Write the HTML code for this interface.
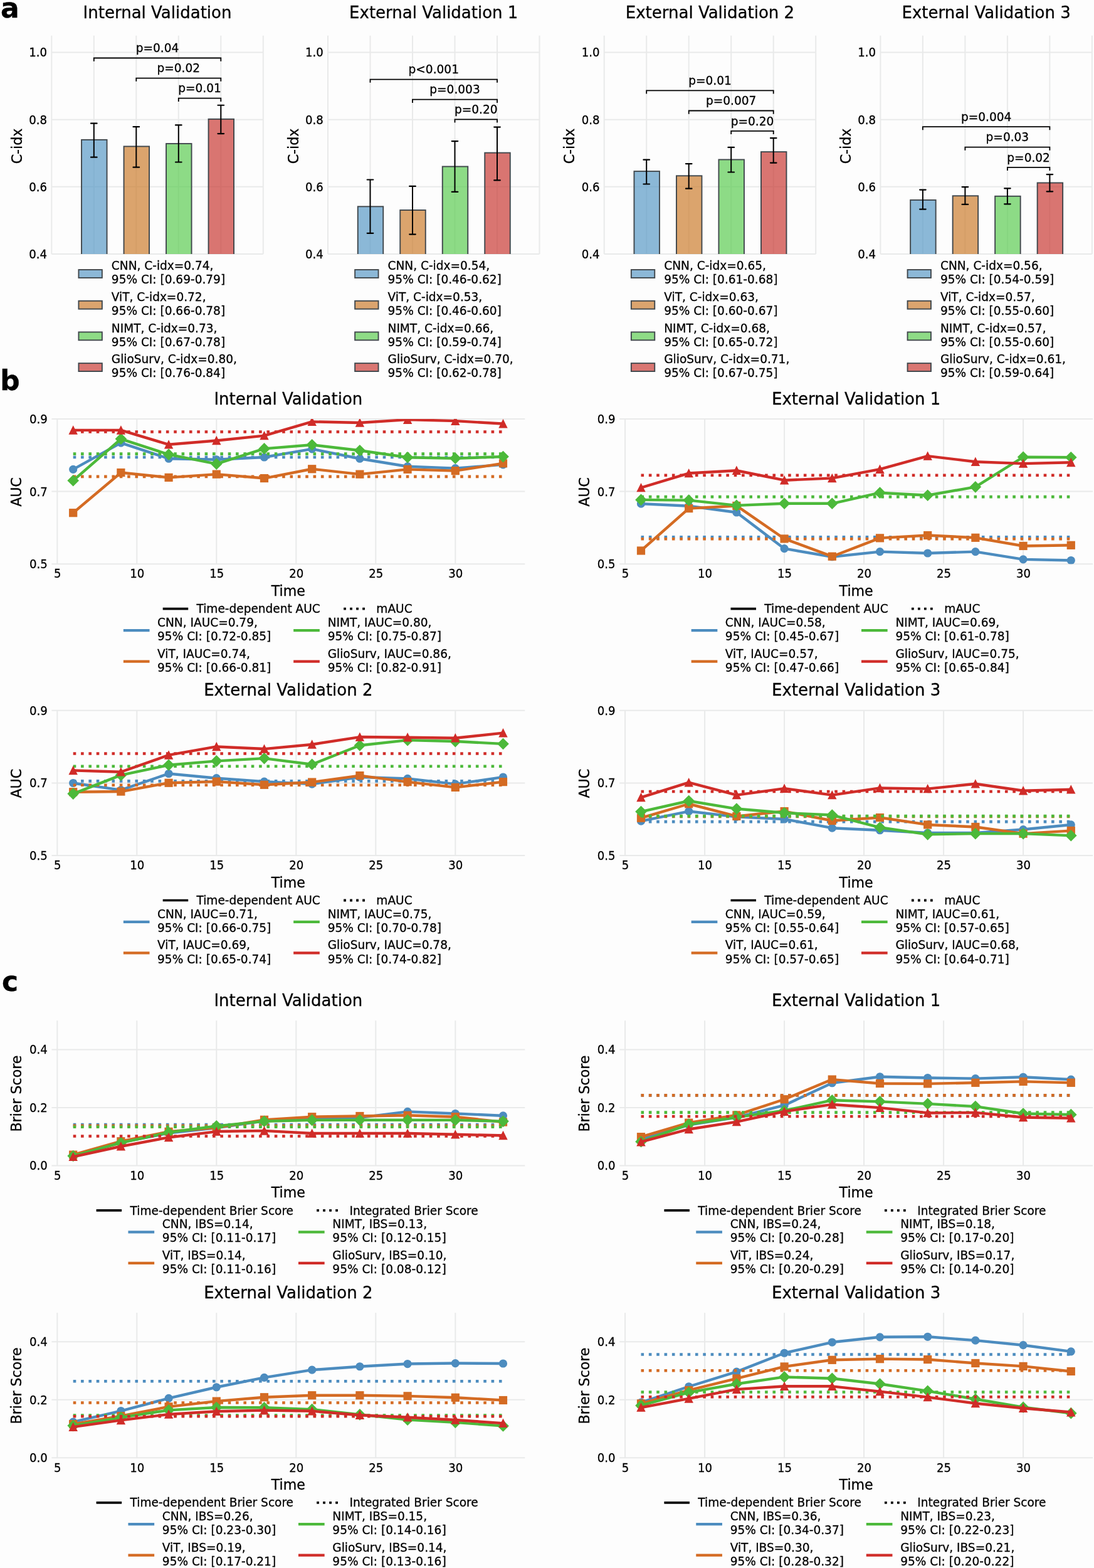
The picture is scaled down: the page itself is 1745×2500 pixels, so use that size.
<!DOCTYPE html>
<html><head><meta charset="utf-8"><title>Figure</title>
<style>
html,body{margin:0;padding:0;background:#fdfdfd;}
body{width:1745px;height:2500px;overflow:hidden;}
svg{display:block;font-family:"DejaVu Sans","Liberation Sans",sans-serif;}
text{stroke:#000;stroke-width:0.3px;}
</style></head><body>
<svg width="1745" height="2500" viewBox="0 0 1745 2500" font-family="'DejaVu Sans', 'Liberation Sans', sans-serif">
<rect width="1745" height="2500" fill="#fdfdfd"/>
<clipPath id="ca0"><rect x="82.3" y="56.8" width="337.5" height="348.2"/></clipPath>
<line x1="82.3" y1="405" x2="419.8" y2="405" stroke="#e9eaea" stroke-width="2"/>
<line x1="82.3" y1="297.86" x2="419.8" y2="297.86" stroke="#e9eaea" stroke-width="2"/>
<line x1="82.3" y1="190.72" x2="419.8" y2="190.72" stroke="#e9eaea" stroke-width="2"/>
<line x1="82.3" y1="83.58" x2="419.8" y2="83.58" stroke="#e9eaea" stroke-width="2"/>
<line x1="82.3" y1="56.8" x2="82.3" y2="405" stroke="#e9eaea" stroke-width="2"/>
<line x1="149.8" y1="56.8" x2="149.8" y2="405" stroke="#e9eaea" stroke-width="2"/>
<line x1="217.3" y1="56.8" x2="217.3" y2="405" stroke="#e9eaea" stroke-width="2"/>
<line x1="284.8" y1="56.8" x2="284.8" y2="405" stroke="#e9eaea" stroke-width="2"/>
<line x1="352.3" y1="56.8" x2="352.3" y2="405" stroke="#e9eaea" stroke-width="2"/>
<line x1="419.8" y1="56.8" x2="419.8" y2="405" stroke="#e9eaea" stroke-width="2"/>
<g clip-path="url(#ca0)">
<rect x="130.05" y="222.86" width="40.5" height="202.14" fill="#4f93c3" fill-opacity="0.65" stroke="#40474c" stroke-width="1.9"/>
<rect x="197.55" y="233.42" width="40.5" height="191.58" fill="#c97421" fill-opacity="0.65" stroke="#40474c" stroke-width="1.9"/>
<rect x="265.05" y="229.03" width="40.5" height="195.97" fill="#52c946" fill-opacity="0.65" stroke="#40474c" stroke-width="1.9"/>
<rect x="332.55" y="189.87" width="40.5" height="235.13" fill="#c62d27" fill-opacity="0.65" stroke="#40474c" stroke-width="1.9"/>
</g>
<line x1="149.8" y1="196.72" x2="149.8" y2="250.72" stroke="#000" stroke-width="2"/>
<line x1="145" y1="196.72" x2="154.6" y2="196.72" stroke="#000" stroke-width="2.2" stroke-linecap="round"/>
<line x1="145" y1="250.72" x2="154.6" y2="250.72" stroke="#000" stroke-width="2.2" stroke-linecap="round"/>
<line x1="217.3" y1="202.19" x2="217.3" y2="266.68" stroke="#000" stroke-width="2"/>
<line x1="212.5" y1="202.19" x2="222.1" y2="202.19" stroke="#000" stroke-width="2.2" stroke-linecap="round"/>
<line x1="212.5" y1="266.68" x2="222.1" y2="266.68" stroke="#000" stroke-width="2.2" stroke-linecap="round"/>
<line x1="284.8" y1="199.4" x2="284.8" y2="258.49" stroke="#000" stroke-width="2"/>
<line x1="280" y1="199.4" x2="289.6" y2="199.4" stroke="#000" stroke-width="2.2" stroke-linecap="round"/>
<line x1="280" y1="258.49" x2="289.6" y2="258.49" stroke="#000" stroke-width="2.2" stroke-linecap="round"/>
<line x1="352.3" y1="167.74" x2="352.3" y2="213.06" stroke="#000" stroke-width="2"/>
<line x1="347.5" y1="167.74" x2="357.1" y2="167.74" stroke="#000" stroke-width="2.2" stroke-linecap="round"/>
<line x1="347.5" y1="213.06" x2="357.1" y2="213.06" stroke="#000" stroke-width="2.2" stroke-linecap="round"/>
<path d="M149.8 97.7V92.5H352.3V97.7" fill="none" stroke="#000" stroke-width="1.8"/>
<text x="251.05" y="83.2" font-size="18.55" text-anchor="middle">p=0.04</text>
<path d="M217.3 129.8V124.6H352.3V129.8" fill="none" stroke="#000" stroke-width="1.8"/>
<text x="284.8" y="115.3" font-size="18.55" text-anchor="middle">p=0.02</text>
<path d="M284.8 161.9V156.7H352.3V161.9" fill="none" stroke="#000" stroke-width="1.8"/>
<text x="318.55" y="147.4" font-size="18.55" text-anchor="middle">p=0.01</text>
<text transform="translate(75 411.8) scale(1 1.07)" font-size="18.1" text-anchor="end">0.4</text>
<text transform="translate(75 304.66) scale(1 1.07)" font-size="18.1" text-anchor="end">0.6</text>
<text transform="translate(75 197.52) scale(1 1.07)" font-size="18.1" text-anchor="end">0.8</text>
<text transform="translate(75 90.38) scale(1 1.07)" font-size="18.1" text-anchor="end">1.0</text>
<text x="34.8" y="233" font-size="22.1" text-anchor="middle" transform="rotate(-90 34.8 233)">C-idx</text>
<text x="251.05" y="28.6" font-size="26" text-anchor="middle">Internal Validation</text>
<rect x="125.45" y="430.05" width="37.4" height="12.9" fill="#8cb8d7" stroke="#40474c" stroke-width="1.9"/>
<text x="177.85" y="430.3" font-size="18.55">CNN, C-idx=0.74,</text>
<text x="177.85" y="452.3" font-size="18.55">95% CI: [0.69-0.79]</text>
<rect x="125.45" y="479.75" width="37.4" height="12.9" fill="#dba46e" stroke="#40474c" stroke-width="1.9"/>
<text x="177.85" y="480" font-size="18.55">ViT, C-idx=0.72,</text>
<text x="177.85" y="502" font-size="18.55">95% CI: [0.66-0.78]</text>
<rect x="125.45" y="529.45" width="37.4" height="12.9" fill="#8edb86" stroke="#40474c" stroke-width="1.9"/>
<text x="177.85" y="529.7" font-size="18.55">NIMT, C-idx=0.73,</text>
<text x="177.85" y="551.7" font-size="18.55">95% CI: [0.67-0.78]</text>
<rect x="125.45" y="579.15" width="37.4" height="12.9" fill="#d97672" stroke="#40474c" stroke-width="1.9"/>
<text x="177.85" y="579.4" font-size="18.55">GlioSurv, C-idx=0.80,</text>
<text x="177.85" y="601.4" font-size="18.55">95% CI: [0.76-0.84]</text>
<clipPath id="ca1"><rect x="523" y="56.8" width="337.5" height="348.2"/></clipPath>
<line x1="523" y1="405" x2="860.5" y2="405" stroke="#e9eaea" stroke-width="2"/>
<line x1="523" y1="297.86" x2="860.5" y2="297.86" stroke="#e9eaea" stroke-width="2"/>
<line x1="523" y1="190.72" x2="860.5" y2="190.72" stroke="#e9eaea" stroke-width="2"/>
<line x1="523" y1="83.58" x2="860.5" y2="83.58" stroke="#e9eaea" stroke-width="2"/>
<line x1="523" y1="56.8" x2="523" y2="405" stroke="#e9eaea" stroke-width="2"/>
<line x1="590.5" y1="56.8" x2="590.5" y2="405" stroke="#e9eaea" stroke-width="2"/>
<line x1="658" y1="56.8" x2="658" y2="405" stroke="#e9eaea" stroke-width="2"/>
<line x1="725.5" y1="56.8" x2="725.5" y2="405" stroke="#e9eaea" stroke-width="2"/>
<line x1="793" y1="56.8" x2="793" y2="405" stroke="#e9eaea" stroke-width="2"/>
<line x1="860.5" y1="56.8" x2="860.5" y2="405" stroke="#e9eaea" stroke-width="2"/>
<g clip-path="url(#ca1)">
<rect x="570.75" y="329.31" width="40.5" height="95.69" fill="#4f93c3" fill-opacity="0.65" stroke="#40474c" stroke-width="1.9"/>
<rect x="638.25" y="334.99" width="40.5" height="90.01" fill="#c97421" fill-opacity="0.65" stroke="#40474c" stroke-width="1.9"/>
<rect x="705.75" y="265.51" width="40.5" height="159.49" fill="#52c946" fill-opacity="0.65" stroke="#40474c" stroke-width="1.9"/>
<rect x="773.25" y="243.6" width="40.5" height="181.4" fill="#c62d27" fill-opacity="0.65" stroke="#40474c" stroke-width="1.9"/>
</g>
<line x1="590.5" y1="286.5" x2="590.5" y2="371.79" stroke="#000" stroke-width="2"/>
<line x1="585.7" y1="286.5" x2="595.3" y2="286.5" stroke="#000" stroke-width="2.2" stroke-linecap="round"/>
<line x1="585.7" y1="371.79" x2="595.3" y2="371.79" stroke="#000" stroke-width="2.2" stroke-linecap="round"/>
<line x1="658" y1="296.9" x2="658" y2="373.61" stroke="#000" stroke-width="2"/>
<line x1="653.2" y1="296.9" x2="662.8" y2="296.9" stroke="#000" stroke-width="2.2" stroke-linecap="round"/>
<line x1="653.2" y1="373.61" x2="662.8" y2="373.61" stroke="#000" stroke-width="2.2" stroke-linecap="round"/>
<line x1="725.5" y1="225.11" x2="725.5" y2="305.9" stroke="#000" stroke-width="2"/>
<line x1="720.7" y1="225.11" x2="730.3" y2="225.11" stroke="#000" stroke-width="2.2" stroke-linecap="round"/>
<line x1="720.7" y1="305.9" x2="730.3" y2="305.9" stroke="#000" stroke-width="2.2" stroke-linecap="round"/>
<line x1="793" y1="202.62" x2="793" y2="287.42" stroke="#000" stroke-width="2"/>
<line x1="788.2" y1="202.62" x2="797.8" y2="202.62" stroke="#000" stroke-width="2.2" stroke-linecap="round"/>
<line x1="788.2" y1="287.42" x2="797.8" y2="287.42" stroke="#000" stroke-width="2.2" stroke-linecap="round"/>
<path d="M590.5 131.8V126.6H793V131.8" fill="none" stroke="#000" stroke-width="1.8"/>
<text x="691.75" y="117.3" font-size="18.55" text-anchor="middle">p<0.001</text>
<path d="M658 163.9V158.7H793V163.9" fill="none" stroke="#000" stroke-width="1.8"/>
<text x="725.5" y="149.4" font-size="18.55" text-anchor="middle">p=0.003</text>
<path d="M725.5 195.6V190.4H793V195.6" fill="none" stroke="#000" stroke-width="1.8"/>
<text x="759.25" y="181.1" font-size="18.55" text-anchor="middle">p=0.20</text>
<text transform="translate(515.7 411.8) scale(1 1.07)" font-size="18.1" text-anchor="end">0.4</text>
<text transform="translate(515.7 304.66) scale(1 1.07)" font-size="18.1" text-anchor="end">0.6</text>
<text transform="translate(515.7 197.52) scale(1 1.07)" font-size="18.1" text-anchor="end">0.8</text>
<text transform="translate(515.7 90.38) scale(1 1.07)" font-size="18.1" text-anchor="end">1.0</text>
<text x="475.5" y="233" font-size="22.1" text-anchor="middle" transform="rotate(-90 475.5 233)">C-idx</text>
<text x="691.75" y="28.6" font-size="26" text-anchor="middle">External Validation 1</text>
<rect x="566.15" y="430.05" width="37.4" height="12.9" fill="#8cb8d7" stroke="#40474c" stroke-width="1.9"/>
<text x="618.55" y="430.3" font-size="18.55">CNN, C-idx=0.54,</text>
<text x="618.55" y="452.3" font-size="18.55">95% CI: [0.46-0.62]</text>
<rect x="566.15" y="479.75" width="37.4" height="12.9" fill="#dba46e" stroke="#40474c" stroke-width="1.9"/>
<text x="618.55" y="480" font-size="18.55">ViT, C-idx=0.53,</text>
<text x="618.55" y="502" font-size="18.55">95% CI: [0.46-0.60]</text>
<rect x="566.15" y="529.45" width="37.4" height="12.9" fill="#8edb86" stroke="#40474c" stroke-width="1.9"/>
<text x="618.55" y="529.7" font-size="18.55">NIMT, C-idx=0.66,</text>
<text x="618.55" y="551.7" font-size="18.55">95% CI: [0.59-0.74]</text>
<rect x="566.15" y="579.15" width="37.4" height="12.9" fill="#d97672" stroke="#40474c" stroke-width="1.9"/>
<text x="618.55" y="579.4" font-size="18.55">GlioSurv, C-idx=0.70,</text>
<text x="618.55" y="601.4" font-size="18.55">95% CI: [0.62-0.78]</text>
<clipPath id="ca2"><rect x="963.7" y="56.8" width="337.5" height="348.2"/></clipPath>
<line x1="963.7" y1="405" x2="1301.2" y2="405" stroke="#e9eaea" stroke-width="2"/>
<line x1="963.7" y1="297.86" x2="1301.2" y2="297.86" stroke="#e9eaea" stroke-width="2"/>
<line x1="963.7" y1="190.72" x2="1301.2" y2="190.72" stroke="#e9eaea" stroke-width="2"/>
<line x1="963.7" y1="83.58" x2="1301.2" y2="83.58" stroke="#e9eaea" stroke-width="2"/>
<line x1="963.7" y1="56.8" x2="963.7" y2="405" stroke="#e9eaea" stroke-width="2"/>
<line x1="1031.2" y1="56.8" x2="1031.2" y2="405" stroke="#e9eaea" stroke-width="2"/>
<line x1="1098.7" y1="56.8" x2="1098.7" y2="405" stroke="#e9eaea" stroke-width="2"/>
<line x1="1166.2" y1="56.8" x2="1166.2" y2="405" stroke="#e9eaea" stroke-width="2"/>
<line x1="1233.7" y1="56.8" x2="1233.7" y2="405" stroke="#e9eaea" stroke-width="2"/>
<line x1="1301.2" y1="56.8" x2="1301.2" y2="405" stroke="#e9eaea" stroke-width="2"/>
<g clip-path="url(#ca2)">
<rect x="1011.45" y="273.11" width="40.5" height="151.89" fill="#4f93c3" fill-opacity="0.65" stroke="#40474c" stroke-width="1.9"/>
<rect x="1078.95" y="280.29" width="40.5" height="144.71" fill="#c97421" fill-opacity="0.65" stroke="#40474c" stroke-width="1.9"/>
<rect x="1146.45" y="254.47" width="40.5" height="170.53" fill="#52c946" fill-opacity="0.65" stroke="#40474c" stroke-width="1.9"/>
<rect x="1213.95" y="242.1" width="40.5" height="182.9" fill="#c62d27" fill-opacity="0.65" stroke="#40474c" stroke-width="1.9"/>
</g>
<line x1="1031.2" y1="254.68" x2="1031.2" y2="293.52" stroke="#000" stroke-width="2"/>
<line x1="1026.4" y1="254.68" x2="1036" y2="254.68" stroke="#000" stroke-width="2.2" stroke-linecap="round"/>
<line x1="1026.4" y1="293.52" x2="1036" y2="293.52" stroke="#000" stroke-width="2.2" stroke-linecap="round"/>
<line x1="1098.7" y1="261.11" x2="1098.7" y2="300.7" stroke="#000" stroke-width="2"/>
<line x1="1093.9" y1="261.11" x2="1103.5" y2="261.11" stroke="#000" stroke-width="2.2" stroke-linecap="round"/>
<line x1="1093.9" y1="300.7" x2="1103.5" y2="300.7" stroke="#000" stroke-width="2.2" stroke-linecap="round"/>
<line x1="1166.2" y1="234.92" x2="1166.2" y2="274.51" stroke="#000" stroke-width="2"/>
<line x1="1161.4" y1="234.92" x2="1171" y2="234.92" stroke="#000" stroke-width="2.2" stroke-linecap="round"/>
<line x1="1161.4" y1="274.51" x2="1171" y2="274.51" stroke="#000" stroke-width="2.2" stroke-linecap="round"/>
<line x1="1233.7" y1="220.03" x2="1233.7" y2="259.61" stroke="#000" stroke-width="2"/>
<line x1="1228.9" y1="220.03" x2="1238.5" y2="220.03" stroke="#000" stroke-width="2.2" stroke-linecap="round"/>
<line x1="1228.9" y1="259.61" x2="1238.5" y2="259.61" stroke="#000" stroke-width="2.2" stroke-linecap="round"/>
<path d="M1031.2 149.5V144.3H1233.7V149.5" fill="none" stroke="#000" stroke-width="1.8"/>
<text x="1132.45" y="135" font-size="18.55" text-anchor="middle">p=0.01</text>
<path d="M1098.7 181.7V176.5H1233.7V181.7" fill="none" stroke="#000" stroke-width="1.8"/>
<text x="1166.2" y="167.2" font-size="18.55" text-anchor="middle">p=0.007</text>
<path d="M1166.2 214.1V208.9H1233.7V214.1" fill="none" stroke="#000" stroke-width="1.8"/>
<text x="1199.95" y="199.6" font-size="18.55" text-anchor="middle">p=0.20</text>
<text transform="translate(956.4 411.8) scale(1 1.07)" font-size="18.1" text-anchor="end">0.4</text>
<text transform="translate(956.4 304.66) scale(1 1.07)" font-size="18.1" text-anchor="end">0.6</text>
<text transform="translate(956.4 197.52) scale(1 1.07)" font-size="18.1" text-anchor="end">0.8</text>
<text transform="translate(956.4 90.38) scale(1 1.07)" font-size="18.1" text-anchor="end">1.0</text>
<text x="916.2" y="233" font-size="22.1" text-anchor="middle" transform="rotate(-90 916.2 233)">C-idx</text>
<text x="1132.45" y="28.6" font-size="26" text-anchor="middle">External Validation 2</text>
<rect x="1006.85" y="430.05" width="37.4" height="12.9" fill="#8cb8d7" stroke="#40474c" stroke-width="1.9"/>
<text x="1059.25" y="430.3" font-size="18.55">CNN, C-idx=0.65,</text>
<text x="1059.25" y="452.3" font-size="18.55">95% CI: [0.61-0.68]</text>
<rect x="1006.85" y="479.75" width="37.4" height="12.9" fill="#dba46e" stroke="#40474c" stroke-width="1.9"/>
<text x="1059.25" y="480" font-size="18.55">ViT, C-idx=0.63,</text>
<text x="1059.25" y="502" font-size="18.55">95% CI: [0.60-0.67]</text>
<rect x="1006.85" y="529.45" width="37.4" height="12.9" fill="#8edb86" stroke="#40474c" stroke-width="1.9"/>
<text x="1059.25" y="529.7" font-size="18.55">NIMT, C-idx=0.68,</text>
<text x="1059.25" y="551.7" font-size="18.55">95% CI: [0.65-0.72]</text>
<rect x="1006.85" y="579.15" width="37.4" height="12.9" fill="#d97672" stroke="#40474c" stroke-width="1.9"/>
<text x="1059.25" y="579.4" font-size="18.55">GlioSurv, C-idx=0.71,</text>
<text x="1059.25" y="601.4" font-size="18.55">95% CI: [0.67-0.75]</text>
<clipPath id="ca3"><rect x="1404.4" y="56.8" width="337.5" height="348.2"/></clipPath>
<line x1="1404.4" y1="405" x2="1741.9" y2="405" stroke="#e9eaea" stroke-width="2"/>
<line x1="1404.4" y1="297.86" x2="1741.9" y2="297.86" stroke="#e9eaea" stroke-width="2"/>
<line x1="1404.4" y1="190.72" x2="1741.9" y2="190.72" stroke="#e9eaea" stroke-width="2"/>
<line x1="1404.4" y1="83.58" x2="1741.9" y2="83.58" stroke="#e9eaea" stroke-width="2"/>
<line x1="1404.4" y1="56.8" x2="1404.4" y2="405" stroke="#e9eaea" stroke-width="2"/>
<line x1="1471.9" y1="56.8" x2="1471.9" y2="405" stroke="#e9eaea" stroke-width="2"/>
<line x1="1539.4" y1="56.8" x2="1539.4" y2="405" stroke="#e9eaea" stroke-width="2"/>
<line x1="1606.9" y1="56.8" x2="1606.9" y2="405" stroke="#e9eaea" stroke-width="2"/>
<line x1="1674.4" y1="56.8" x2="1674.4" y2="405" stroke="#e9eaea" stroke-width="2"/>
<line x1="1741.9" y1="56.8" x2="1741.9" y2="405" stroke="#e9eaea" stroke-width="2"/>
<g clip-path="url(#ca3)">
<rect x="1452.15" y="318.91" width="40.5" height="106.09" fill="#4f93c3" fill-opacity="0.65" stroke="#40474c" stroke-width="1.9"/>
<rect x="1519.65" y="312.27" width="40.5" height="112.73" fill="#c97421" fill-opacity="0.65" stroke="#40474c" stroke-width="1.9"/>
<rect x="1587.15" y="312.81" width="40.5" height="112.19" fill="#52c946" fill-opacity="0.65" stroke="#40474c" stroke-width="1.9"/>
<rect x="1654.65" y="291.49" width="40.5" height="133.51" fill="#c62d27" fill-opacity="0.65" stroke="#40474c" stroke-width="1.9"/>
</g>
<line x1="1471.9" y1="302.58" x2="1471.9" y2="333.59" stroke="#000" stroke-width="2"/>
<line x1="1467.1" y1="302.58" x2="1476.7" y2="302.58" stroke="#000" stroke-width="2.2" stroke-linecap="round"/>
<line x1="1467.1" y1="333.59" x2="1476.7" y2="333.59" stroke="#000" stroke-width="2.2" stroke-linecap="round"/>
<line x1="1539.4" y1="298.08" x2="1539.4" y2="325.88" stroke="#000" stroke-width="2"/>
<line x1="1534.6" y1="298.08" x2="1544.2" y2="298.08" stroke="#000" stroke-width="2.2" stroke-linecap="round"/>
<line x1="1534.6" y1="325.88" x2="1544.2" y2="325.88" stroke="#000" stroke-width="2.2" stroke-linecap="round"/>
<line x1="1606.9" y1="300.33" x2="1606.9" y2="325.29" stroke="#000" stroke-width="2"/>
<line x1="1602.1" y1="300.33" x2="1611.7" y2="300.33" stroke="#000" stroke-width="2.2" stroke-linecap="round"/>
<line x1="1602.1" y1="325.29" x2="1611.7" y2="325.29" stroke="#000" stroke-width="2.2" stroke-linecap="round"/>
<line x1="1674.4" y1="278.09" x2="1674.4" y2="305.31" stroke="#000" stroke-width="2"/>
<line x1="1669.6" y1="278.09" x2="1679.2" y2="278.09" stroke="#000" stroke-width="2.2" stroke-linecap="round"/>
<line x1="1669.6" y1="305.31" x2="1679.2" y2="305.31" stroke="#000" stroke-width="2.2" stroke-linecap="round"/>
<path d="M1471.9 207.3V202.1H1674.4V207.3" fill="none" stroke="#000" stroke-width="1.8"/>
<text x="1573.15" y="192.8" font-size="18.55" text-anchor="middle">p=0.004</text>
<path d="M1539.4 239.8V234.6H1674.4V239.8" fill="none" stroke="#000" stroke-width="1.8"/>
<text x="1606.9" y="225.3" font-size="18.55" text-anchor="middle">p=0.03</text>
<path d="M1606.9 272V266.8H1674.4V272" fill="none" stroke="#000" stroke-width="1.8"/>
<text x="1640.65" y="257.5" font-size="18.55" text-anchor="middle">p=0.02</text>
<text transform="translate(1397.1 411.8) scale(1 1.07)" font-size="18.1" text-anchor="end">0.4</text>
<text transform="translate(1397.1 304.66) scale(1 1.07)" font-size="18.1" text-anchor="end">0.6</text>
<text transform="translate(1397.1 197.52) scale(1 1.07)" font-size="18.1" text-anchor="end">0.8</text>
<text transform="translate(1397.1 90.38) scale(1 1.07)" font-size="18.1" text-anchor="end">1.0</text>
<text x="1356.9" y="233" font-size="22.1" text-anchor="middle" transform="rotate(-90 1356.9 233)">C-idx</text>
<text x="1573.15" y="28.6" font-size="26" text-anchor="middle">External Validation 3</text>
<rect x="1447.55" y="430.05" width="37.4" height="12.9" fill="#8cb8d7" stroke="#40474c" stroke-width="1.9"/>
<text x="1499.95" y="430.3" font-size="18.55">CNN, C-idx=0.56,</text>
<text x="1499.95" y="452.3" font-size="18.55">95% CI: [0.54-0.59]</text>
<rect x="1447.55" y="479.75" width="37.4" height="12.9" fill="#dba46e" stroke="#40474c" stroke-width="1.9"/>
<text x="1499.95" y="480" font-size="18.55">ViT, C-idx=0.57,</text>
<text x="1499.95" y="502" font-size="18.55">95% CI: [0.55-0.60]</text>
<rect x="1447.55" y="529.45" width="37.4" height="12.9" fill="#8edb86" stroke="#40474c" stroke-width="1.9"/>
<text x="1499.95" y="529.7" font-size="18.55">NIMT, C-idx=0.57,</text>
<text x="1499.95" y="551.7" font-size="18.55">95% CI: [0.55-0.60]</text>
<rect x="1447.55" y="579.15" width="37.4" height="12.9" fill="#d97672" stroke="#40474c" stroke-width="1.9"/>
<text x="1499.95" y="579.4" font-size="18.55">GlioSurv, C-idx=0.61,</text>
<text x="1499.95" y="601.4" font-size="18.55">95% CI: [0.59-0.64]</text>
<line x1="82.4" y1="899.2" x2="837.3" y2="899.2" stroke="#e9eaea" stroke-width="2"/>
<line x1="82.4" y1="783.6" x2="837.3" y2="783.6" stroke="#e9eaea" stroke-width="2"/>
<line x1="82.4" y1="668" x2="837.3" y2="668" stroke="#e9eaea" stroke-width="2"/>
<line x1="91.29" y1="668" x2="91.29" y2="899.2" stroke="#e9eaea" stroke-width="2"/>
<line x1="218.29" y1="668" x2="218.29" y2="899.2" stroke="#e9eaea" stroke-width="2"/>
<line x1="345.29" y1="668" x2="345.29" y2="899.2" stroke="#e9eaea" stroke-width="2"/>
<line x1="472.29" y1="668" x2="472.29" y2="899.2" stroke="#e9eaea" stroke-width="2"/>
<line x1="599.29" y1="668" x2="599.29" y2="899.2" stroke="#e9eaea" stroke-width="2"/>
<line x1="726.29" y1="668" x2="726.29" y2="899.2" stroke="#e9eaea" stroke-width="2"/>
<clipPath id="cl0"><rect x="82.4" y="668" width="754.9" height="231.2"/></clipPath>
<g clip-path="url(#cl0)">
<polyline points="116.69,748.34 192.89,706.15 269.09,731.23 345.29,732.74 421.49,728.98 497.69,715.86 573.89,731.23 650.09,743.72 726.29,746.61 802.49,740.83" fill="none" stroke="#4c8cbf" stroke-width="4.4" stroke-linejoin="round" stroke-linecap="square"/>
<circle cx="116.69" cy="748.34" r="5.9" fill="#4c8cbf" stroke="#4c8cbf" stroke-width="1.4" stroke-linejoin="miter"/>
<circle cx="192.89" cy="706.15" r="5.9" fill="#4c8cbf" stroke="#4c8cbf" stroke-width="1.4" stroke-linejoin="miter"/>
<circle cx="269.09" cy="731.23" r="5.9" fill="#4c8cbf" stroke="#4c8cbf" stroke-width="1.4" stroke-linejoin="miter"/>
<circle cx="345.29" cy="732.74" r="5.9" fill="#4c8cbf" stroke="#4c8cbf" stroke-width="1.4" stroke-linejoin="miter"/>
<circle cx="421.49" cy="728.98" r="5.9" fill="#4c8cbf" stroke="#4c8cbf" stroke-width="1.4" stroke-linejoin="miter"/>
<circle cx="497.69" cy="715.86" r="5.9" fill="#4c8cbf" stroke="#4c8cbf" stroke-width="1.4" stroke-linejoin="miter"/>
<circle cx="573.89" cy="731.23" r="5.9" fill="#4c8cbf" stroke="#4c8cbf" stroke-width="1.4" stroke-linejoin="miter"/>
<circle cx="650.09" cy="743.72" r="5.9" fill="#4c8cbf" stroke="#4c8cbf" stroke-width="1.4" stroke-linejoin="miter"/>
<circle cx="726.29" cy="746.61" r="5.9" fill="#4c8cbf" stroke="#4c8cbf" stroke-width="1.4" stroke-linejoin="miter"/>
<circle cx="802.49" cy="740.83" r="5.9" fill="#4c8cbf" stroke="#4c8cbf" stroke-width="1.4" stroke-linejoin="miter"/>
<line x1="116.69" y1="728.98" x2="802.49" y2="728.98" stroke="#4c8cbf" stroke-width="4.6" stroke-dasharray="4.6 7.75"/>
<polyline points="116.69,817.7 192.89,753.54 269.09,761.35 345.29,756.14 421.49,762.56 497.69,747.76 573.89,756.14 650.09,748.34 726.29,750.65 802.49,738.86" fill="none" stroke="#d46b23" stroke-width="4.4" stroke-linejoin="round" stroke-linecap="square"/>
<rect x="110.79" y="811.8" width="11.8" height="11.8" fill="#d46b23" stroke="#d46b23" stroke-width="1.4" stroke-linejoin="miter"/>
<rect x="186.99" y="747.64" width="11.8" height="11.8" fill="#d46b23" stroke="#d46b23" stroke-width="1.4" stroke-linejoin="miter"/>
<rect x="263.19" y="755.45" width="11.8" height="11.8" fill="#d46b23" stroke="#d46b23" stroke-width="1.4" stroke-linejoin="miter"/>
<rect x="339.39" y="750.25" width="11.8" height="11.8" fill="#d46b23" stroke="#d46b23" stroke-width="1.4" stroke-linejoin="miter"/>
<rect x="415.59" y="756.66" width="11.8" height="11.8" fill="#d46b23" stroke="#d46b23" stroke-width="1.4" stroke-linejoin="miter"/>
<rect x="491.79" y="741.86" width="11.8" height="11.8" fill="#d46b23" stroke="#d46b23" stroke-width="1.4" stroke-linejoin="miter"/>
<rect x="567.99" y="750.25" width="11.8" height="11.8" fill="#d46b23" stroke="#d46b23" stroke-width="1.4" stroke-linejoin="miter"/>
<rect x="644.19" y="742.44" width="11.8" height="11.8" fill="#d46b23" stroke="#d46b23" stroke-width="1.4" stroke-linejoin="miter"/>
<rect x="720.39" y="744.75" width="11.8" height="11.8" fill="#d46b23" stroke="#d46b23" stroke-width="1.4" stroke-linejoin="miter"/>
<rect x="796.59" y="732.96" width="11.8" height="11.8" fill="#d46b23" stroke="#d46b23" stroke-width="1.4" stroke-linejoin="miter"/>
<line x1="116.69" y1="759.9" x2="802.49" y2="759.9" stroke="#d46b23" stroke-width="4.6" stroke-dasharray="4.6 7.75"/>
<polyline points="116.69,766.26 192.89,699.79 269.09,724.64 345.29,739.67 421.49,715.4 497.69,709.21 573.89,718.29 650.09,729.27 726.29,730.77 802.49,728.11" fill="none" stroke="#4cb93a" stroke-width="4.4" stroke-linejoin="round" stroke-linecap="square"/>
<path d="M116.69 757.92L125.03 766.26L116.69 774.6L108.35 766.26Z" fill="#4cb93a" stroke="#4cb93a" stroke-width="1.4" stroke-linejoin="miter"/>
<path d="M192.89 691.45L201.23 699.79L192.89 708.13L184.55 699.79Z" fill="#4cb93a" stroke="#4cb93a" stroke-width="1.4" stroke-linejoin="miter"/>
<path d="M269.09 716.3L277.43 724.64L269.09 732.99L260.75 724.64Z" fill="#4cb93a" stroke="#4cb93a" stroke-width="1.4" stroke-linejoin="miter"/>
<path d="M345.29 731.33L353.63 739.67L345.29 748.02L336.95 739.67Z" fill="#4cb93a" stroke="#4cb93a" stroke-width="1.4" stroke-linejoin="miter"/>
<path d="M421.49 707.05L429.83 715.4L421.49 723.74L413.15 715.4Z" fill="#4cb93a" stroke="#4cb93a" stroke-width="1.4" stroke-linejoin="miter"/>
<path d="M497.69 700.87L506.03 709.21L497.69 717.56L489.35 709.21Z" fill="#4cb93a" stroke="#4cb93a" stroke-width="1.4" stroke-linejoin="miter"/>
<path d="M573.89 709.94L582.23 718.29L573.89 726.63L565.55 718.29Z" fill="#4cb93a" stroke="#4cb93a" stroke-width="1.4" stroke-linejoin="miter"/>
<path d="M650.09 720.92L658.43 729.27L650.09 737.61L641.75 729.27Z" fill="#4cb93a" stroke="#4cb93a" stroke-width="1.4" stroke-linejoin="miter"/>
<path d="M726.29 722.43L734.63 730.77L726.29 739.11L717.95 730.77Z" fill="#4cb93a" stroke="#4cb93a" stroke-width="1.4" stroke-linejoin="miter"/>
<path d="M802.49 719.77L810.83 728.11L802.49 736.46L794.15 728.11Z" fill="#4cb93a" stroke="#4cb93a" stroke-width="1.4" stroke-linejoin="miter"/>
<line x1="116.69" y1="723.66" x2="802.49" y2="723.66" stroke="#4cb93a" stroke-width="4.6" stroke-dasharray="4.6 7.75"/>
<polyline points="116.69,685.92 192.89,685.92 269.09,708.81 345.29,702.45 421.49,694.59 497.69,672.34 573.89,674.01 650.09,669.16 726.29,671.12 802.49,675.63" fill="none" stroke="#d02c28" stroke-width="4.4" stroke-linejoin="round" stroke-linecap="square"/>
<path d="M116.69 679.84L122.77 692L110.61 692Z" fill="#d02c28" stroke="#d02c28" stroke-width="1.4" stroke-linejoin="miter"/>
<path d="M192.89 679.84L198.97 692L186.81 692Z" fill="#d02c28" stroke="#d02c28" stroke-width="1.4" stroke-linejoin="miter"/>
<path d="M269.09 702.73L275.17 714.88L263.01 714.88Z" fill="#d02c28" stroke="#d02c28" stroke-width="1.4" stroke-linejoin="miter"/>
<path d="M345.29 696.37L351.37 708.53L339.21 708.53Z" fill="#d02c28" stroke="#d02c28" stroke-width="1.4" stroke-linejoin="miter"/>
<path d="M421.49 688.51L427.57 700.67L415.41 700.67Z" fill="#d02c28" stroke="#d02c28" stroke-width="1.4" stroke-linejoin="miter"/>
<path d="M497.69 666.26L503.77 678.41L491.61 678.41Z" fill="#d02c28" stroke="#d02c28" stroke-width="1.4" stroke-linejoin="miter"/>
<path d="M573.89 667.93L579.97 680.09L567.81 680.09Z" fill="#d02c28" stroke="#d02c28" stroke-width="1.4" stroke-linejoin="miter"/>
<path d="M650.09 663.08L656.17 675.23L644.01 675.23Z" fill="#d02c28" stroke="#d02c28" stroke-width="1.4" stroke-linejoin="miter"/>
<path d="M726.29 665.04L732.37 677.2L720.21 677.2Z" fill="#d02c28" stroke="#d02c28" stroke-width="1.4" stroke-linejoin="miter"/>
<path d="M802.49 669.55L808.57 681.71L796.41 681.71Z" fill="#d02c28" stroke="#d02c28" stroke-width="1.4" stroke-linejoin="miter"/>
<line x1="116.69" y1="688.52" x2="802.49" y2="688.52" stroke="#d02c28" stroke-width="4.6" stroke-dasharray="4.6 7.75"/>
</g>
<text transform="translate(75.8 906.1) scale(1 1.07)" font-size="18.1" text-anchor="end">0.5</text>
<text transform="translate(75.8 790.5) scale(1 1.07)" font-size="18.1" text-anchor="end">0.7</text>
<text transform="translate(75.8 674.9) scale(1 1.07)" font-size="18.1" text-anchor="end">0.9</text>
<text transform="translate(91.69 921.4) scale(1 1.07)" font-size="18.1" text-anchor="middle">5</text>
<text transform="translate(218.69 921.4) scale(1 1.07)" font-size="18.1" text-anchor="middle">10</text>
<text transform="translate(345.69 921.4) scale(1 1.07)" font-size="18.1" text-anchor="middle">15</text>
<text transform="translate(472.69 921.4) scale(1 1.07)" font-size="18.1" text-anchor="middle">20</text>
<text transform="translate(599.69 921.4) scale(1 1.07)" font-size="18.1" text-anchor="middle">25</text>
<text transform="translate(726.69 921.4) scale(1 1.07)" font-size="18.1" text-anchor="middle">30</text>
<text x="459.85" y="950" font-size="22.1" text-anchor="middle">Time</text>
<text x="33.9" y="784.4" font-size="22.1" text-anchor="middle" transform="rotate(-90 33.9 784.4)">AUC</text>
<text x="459.85" y="644.5" font-size="26" text-anchor="middle">Internal Validation</text>
<line x1="261.55" y1="970.7" x2="298.35" y2="970.7" stroke="#000" stroke-width="3.7" stroke-linecap="square"/>
<text x="313.45" y="977.3" font-size="18.55">Time-dependent AUC</text>
<line x1="548.15" y1="970.7" x2="585.15" y2="970.7" stroke="#000" stroke-width="3.8" stroke-dasharray="3.8 6.2"/>
<text x="600.35" y="977.3" font-size="18.55">mAUC</text>
<line x1="198.95" y1="1005.1" x2="236.45" y2="1005.1" stroke="#4c8cbf" stroke-width="4.2" stroke-linecap="square"/>
<text x="251.05" y="999" font-size="18.55">CNN, IAUC=0.79,</text>
<text x="251.05" y="1021.2" font-size="18.55">95% CI: [0.72-0.85]</text>
<line x1="198.95" y1="1054.6" x2="236.45" y2="1054.6" stroke="#d46b23" stroke-width="4.2" stroke-linecap="square"/>
<text x="251.05" y="1048.5" font-size="18.55">ViT, IAUC=0.74,</text>
<text x="251.05" y="1070.7" font-size="18.55">95% CI: [0.66-0.81]</text>
<line x1="470.25" y1="1005.1" x2="507.75" y2="1005.1" stroke="#4cb93a" stroke-width="4.2" stroke-linecap="square"/>
<text x="522.65" y="999" font-size="18.55">NIMT, IAUC=0.80,</text>
<text x="522.65" y="1021.2" font-size="18.55">95% CI: [0.75-0.87]</text>
<line x1="470.25" y1="1054.6" x2="507.75" y2="1054.6" stroke="#d02c28" stroke-width="4.2" stroke-linecap="square"/>
<text x="522.65" y="1048.5" font-size="18.55">GlioSurv, IAUC=0.86,</text>
<text x="522.65" y="1070.7" font-size="18.55">95% CI: [0.82-0.91]</text>
<line x1="988.2" y1="899.2" x2="1743.1" y2="899.2" stroke="#e9eaea" stroke-width="2"/>
<line x1="988.2" y1="783.6" x2="1743.1" y2="783.6" stroke="#e9eaea" stroke-width="2"/>
<line x1="988.2" y1="668" x2="1743.1" y2="668" stroke="#e9eaea" stroke-width="2"/>
<line x1="997.09" y1="668" x2="997.09" y2="899.2" stroke="#e9eaea" stroke-width="2"/>
<line x1="1124.09" y1="668" x2="1124.09" y2="899.2" stroke="#e9eaea" stroke-width="2"/>
<line x1="1251.09" y1="668" x2="1251.09" y2="899.2" stroke="#e9eaea" stroke-width="2"/>
<line x1="1378.09" y1="668" x2="1378.09" y2="899.2" stroke="#e9eaea" stroke-width="2"/>
<line x1="1505.09" y1="668" x2="1505.09" y2="899.2" stroke="#e9eaea" stroke-width="2"/>
<line x1="1632.09" y1="668" x2="1632.09" y2="899.2" stroke="#e9eaea" stroke-width="2"/>
<clipPath id="cl1"><rect x="988.2" y="668" width="754.9" height="231.2"/></clipPath>
<g clip-path="url(#cl1)">
<polyline points="1022.49,803.14 1098.69,806.72 1174.89,817.01 1251.09,874.69 1327.29,887.76 1403.49,879.61 1479.69,881.98 1555.89,879.61 1632.09,891.86 1708.29,893.48" fill="none" stroke="#4c8cbf" stroke-width="4.4" stroke-linejoin="round" stroke-linecap="square"/>
<circle cx="1022.49" cy="803.14" r="5.9" fill="#4c8cbf" stroke="#4c8cbf" stroke-width="1.4" stroke-linejoin="miter"/>
<circle cx="1098.69" cy="806.72" r="5.9" fill="#4c8cbf" stroke="#4c8cbf" stroke-width="1.4" stroke-linejoin="miter"/>
<circle cx="1174.89" cy="817.01" r="5.9" fill="#4c8cbf" stroke="#4c8cbf" stroke-width="1.4" stroke-linejoin="miter"/>
<circle cx="1251.09" cy="874.69" r="5.9" fill="#4c8cbf" stroke="#4c8cbf" stroke-width="1.4" stroke-linejoin="miter"/>
<circle cx="1327.29" cy="887.76" r="5.9" fill="#4c8cbf" stroke="#4c8cbf" stroke-width="1.4" stroke-linejoin="miter"/>
<circle cx="1403.49" cy="879.61" r="5.9" fill="#4c8cbf" stroke="#4c8cbf" stroke-width="1.4" stroke-linejoin="miter"/>
<circle cx="1479.69" cy="881.98" r="5.9" fill="#4c8cbf" stroke="#4c8cbf" stroke-width="1.4" stroke-linejoin="miter"/>
<circle cx="1555.89" cy="879.61" r="5.9" fill="#4c8cbf" stroke="#4c8cbf" stroke-width="1.4" stroke-linejoin="miter"/>
<circle cx="1632.09" cy="891.86" r="5.9" fill="#4c8cbf" stroke="#4c8cbf" stroke-width="1.4" stroke-linejoin="miter"/>
<circle cx="1708.29" cy="893.48" r="5.9" fill="#4c8cbf" stroke="#4c8cbf" stroke-width="1.4" stroke-linejoin="miter"/>
<line x1="1022.49" y1="856.25" x2="1708.29" y2="856.25" stroke="#4c8cbf" stroke-width="4.6" stroke-dasharray="4.6 7.75"/>
<polyline points="1022.49,877.99 1098.69,810.65 1174.89,806.43 1251.09,858.97 1327.29,887.18 1403.49,857.87 1479.69,853.54 1555.89,857.3 1632.09,870.47 1708.29,869.32" fill="none" stroke="#d46b23" stroke-width="4.4" stroke-linejoin="round" stroke-linecap="square"/>
<rect x="1016.59" y="872.09" width="11.8" height="11.8" fill="#d46b23" stroke="#d46b23" stroke-width="1.4" stroke-linejoin="miter"/>
<rect x="1092.79" y="804.75" width="11.8" height="11.8" fill="#d46b23" stroke="#d46b23" stroke-width="1.4" stroke-linejoin="miter"/>
<rect x="1168.99" y="800.53" width="11.8" height="11.8" fill="#d46b23" stroke="#d46b23" stroke-width="1.4" stroke-linejoin="miter"/>
<rect x="1245.19" y="853.07" width="11.8" height="11.8" fill="#d46b23" stroke="#d46b23" stroke-width="1.4" stroke-linejoin="miter"/>
<rect x="1321.39" y="881.28" width="11.8" height="11.8" fill="#d46b23" stroke="#d46b23" stroke-width="1.4" stroke-linejoin="miter"/>
<rect x="1397.59" y="851.97" width="11.8" height="11.8" fill="#d46b23" stroke="#d46b23" stroke-width="1.4" stroke-linejoin="miter"/>
<rect x="1473.79" y="847.64" width="11.8" height="11.8" fill="#d46b23" stroke="#d46b23" stroke-width="1.4" stroke-linejoin="miter"/>
<rect x="1549.99" y="851.4" width="11.8" height="11.8" fill="#d46b23" stroke="#d46b23" stroke-width="1.4" stroke-linejoin="miter"/>
<rect x="1626.19" y="864.57" width="11.8" height="11.8" fill="#d46b23" stroke="#d46b23" stroke-width="1.4" stroke-linejoin="miter"/>
<rect x="1702.39" y="863.42" width="11.8" height="11.8" fill="#d46b23" stroke="#d46b23" stroke-width="1.4" stroke-linejoin="miter"/>
<line x1="1022.49" y1="859.32" x2="1708.29" y2="859.32" stroke="#d46b23" stroke-width="4.6" stroke-dasharray="4.6 7.75"/>
<polyline points="1022.49,796.89 1098.69,797.59 1174.89,805.91 1251.09,802.79 1327.29,802.79 1403.49,785.68 1479.69,789.78 1555.89,776.32 1632.09,728.75 1708.29,729.27" fill="none" stroke="#4cb93a" stroke-width="4.4" stroke-linejoin="round" stroke-linecap="square"/>
<path d="M1022.49 788.55L1030.83 796.89L1022.49 805.24L1014.15 796.89Z" fill="#4cb93a" stroke="#4cb93a" stroke-width="1.4" stroke-linejoin="miter"/>
<path d="M1098.69 789.24L1107.03 797.59L1098.69 805.93L1090.35 797.59Z" fill="#4cb93a" stroke="#4cb93a" stroke-width="1.4" stroke-linejoin="miter"/>
<path d="M1174.89 797.57L1183.23 805.91L1174.89 814.25L1166.55 805.91Z" fill="#4cb93a" stroke="#4cb93a" stroke-width="1.4" stroke-linejoin="miter"/>
<path d="M1251.09 794.45L1259.43 802.79L1251.09 811.13L1242.75 802.79Z" fill="#4cb93a" stroke="#4cb93a" stroke-width="1.4" stroke-linejoin="miter"/>
<path d="M1327.29 794.45L1335.63 802.79L1327.29 811.13L1318.95 802.79Z" fill="#4cb93a" stroke="#4cb93a" stroke-width="1.4" stroke-linejoin="miter"/>
<path d="M1403.49 777.34L1411.83 785.68L1403.49 794.02L1395.15 785.68Z" fill="#4cb93a" stroke="#4cb93a" stroke-width="1.4" stroke-linejoin="miter"/>
<path d="M1479.69 781.44L1488.03 789.78L1479.69 798.13L1471.35 789.78Z" fill="#4cb93a" stroke="#4cb93a" stroke-width="1.4" stroke-linejoin="miter"/>
<path d="M1555.89 767.97L1564.23 776.32L1555.89 784.66L1547.55 776.32Z" fill="#4cb93a" stroke="#4cb93a" stroke-width="1.4" stroke-linejoin="miter"/>
<path d="M1632.09 720.4L1640.43 728.75L1632.09 737.09L1623.75 728.75Z" fill="#4cb93a" stroke="#4cb93a" stroke-width="1.4" stroke-linejoin="miter"/>
<path d="M1708.29 720.92L1716.63 729.27L1708.29 737.61L1699.95 729.27Z" fill="#4cb93a" stroke="#4cb93a" stroke-width="1.4" stroke-linejoin="miter"/>
<line x1="1022.49" y1="792.1" x2="1708.29" y2="792.1" stroke="#4cb93a" stroke-width="4.6" stroke-dasharray="4.6 7.75"/>
<polyline points="1022.49,777.59 1098.69,754.53 1174.89,750.25 1251.09,765.68 1327.29,762.39 1403.49,748.17 1479.69,727.07 1555.89,736.2 1632.09,739.09 1708.29,737.36" fill="none" stroke="#d02c28" stroke-width="4.4" stroke-linejoin="round" stroke-linecap="square"/>
<path d="M1022.49 771.51L1028.57 783.67L1016.41 783.67Z" fill="#d02c28" stroke="#d02c28" stroke-width="1.4" stroke-linejoin="miter"/>
<path d="M1098.69 748.45L1104.77 760.6L1092.61 760.6Z" fill="#d02c28" stroke="#d02c28" stroke-width="1.4" stroke-linejoin="miter"/>
<path d="M1174.89 744.17L1180.97 756.33L1168.81 756.33Z" fill="#d02c28" stroke="#d02c28" stroke-width="1.4" stroke-linejoin="miter"/>
<path d="M1251.09 759.61L1257.17 771.76L1245.01 771.76Z" fill="#d02c28" stroke="#d02c28" stroke-width="1.4" stroke-linejoin="miter"/>
<path d="M1327.29 756.31L1333.37 768.46L1321.21 768.46Z" fill="#d02c28" stroke="#d02c28" stroke-width="1.4" stroke-linejoin="miter"/>
<path d="M1403.49 742.09L1409.57 754.25L1397.41 754.25Z" fill="#d02c28" stroke="#d02c28" stroke-width="1.4" stroke-linejoin="miter"/>
<path d="M1479.69 720.99L1485.77 733.15L1473.61 733.15Z" fill="#d02c28" stroke="#d02c28" stroke-width="1.4" stroke-linejoin="miter"/>
<path d="M1555.89 730.13L1561.97 742.28L1549.81 742.28Z" fill="#d02c28" stroke="#d02c28" stroke-width="1.4" stroke-linejoin="miter"/>
<path d="M1632.09 733.02L1638.17 745.17L1626.01 745.17Z" fill="#d02c28" stroke="#d02c28" stroke-width="1.4" stroke-linejoin="miter"/>
<path d="M1708.29 731.28L1714.37 743.44L1702.21 743.44Z" fill="#d02c28" stroke="#d02c28" stroke-width="1.4" stroke-linejoin="miter"/>
<line x1="1022.49" y1="757.76" x2="1708.29" y2="757.76" stroke="#d02c28" stroke-width="4.6" stroke-dasharray="4.6 7.75"/>
</g>
<text transform="translate(981.6 906.1) scale(1 1.07)" font-size="18.1" text-anchor="end">0.5</text>
<text transform="translate(981.6 790.5) scale(1 1.07)" font-size="18.1" text-anchor="end">0.7</text>
<text transform="translate(981.6 674.9) scale(1 1.07)" font-size="18.1" text-anchor="end">0.9</text>
<text transform="translate(997.49 921.4) scale(1 1.07)" font-size="18.1" text-anchor="middle">5</text>
<text transform="translate(1124.49 921.4) scale(1 1.07)" font-size="18.1" text-anchor="middle">10</text>
<text transform="translate(1251.49 921.4) scale(1 1.07)" font-size="18.1" text-anchor="middle">15</text>
<text transform="translate(1378.49 921.4) scale(1 1.07)" font-size="18.1" text-anchor="middle">20</text>
<text transform="translate(1505.49 921.4) scale(1 1.07)" font-size="18.1" text-anchor="middle">25</text>
<text transform="translate(1632.49 921.4) scale(1 1.07)" font-size="18.1" text-anchor="middle">30</text>
<text x="1365.65" y="950" font-size="22.1" text-anchor="middle">Time</text>
<text x="939.7" y="784.4" font-size="22.1" text-anchor="middle" transform="rotate(-90 939.7 784.4)">AUC</text>
<text x="1365.65" y="644.5" font-size="26" text-anchor="middle">External Validation 1</text>
<line x1="1167.35" y1="970.7" x2="1204.15" y2="970.7" stroke="#000" stroke-width="3.7" stroke-linecap="square"/>
<text x="1219.25" y="977.3" font-size="18.55">Time-dependent AUC</text>
<line x1="1453.95" y1="970.7" x2="1490.95" y2="970.7" stroke="#000" stroke-width="3.8" stroke-dasharray="3.8 6.2"/>
<text x="1506.15" y="977.3" font-size="18.55">mAUC</text>
<line x1="1104.75" y1="1005.1" x2="1142.25" y2="1005.1" stroke="#4c8cbf" stroke-width="4.2" stroke-linecap="square"/>
<text x="1156.85" y="999" font-size="18.55">CNN, IAUC=0.58,</text>
<text x="1156.85" y="1021.2" font-size="18.55">95% CI: [0.45-0.67]</text>
<line x1="1104.75" y1="1054.6" x2="1142.25" y2="1054.6" stroke="#d46b23" stroke-width="4.2" stroke-linecap="square"/>
<text x="1156.85" y="1048.5" font-size="18.55">ViT, IAUC=0.57,</text>
<text x="1156.85" y="1070.7" font-size="18.55">95% CI: [0.47-0.66]</text>
<line x1="1376.05" y1="1005.1" x2="1413.55" y2="1005.1" stroke="#4cb93a" stroke-width="4.2" stroke-linecap="square"/>
<text x="1428.45" y="999" font-size="18.55">NIMT, IAUC=0.69,</text>
<text x="1428.45" y="1021.2" font-size="18.55">95% CI: [0.61-0.78]</text>
<line x1="1376.05" y1="1054.6" x2="1413.55" y2="1054.6" stroke="#d02c28" stroke-width="4.2" stroke-linecap="square"/>
<text x="1428.45" y="1048.5" font-size="18.55">GlioSurv, IAUC=0.75,</text>
<text x="1428.45" y="1070.7" font-size="18.55">95% CI: [0.65-0.84]</text>
<line x1="82.4" y1="1364" x2="837.3" y2="1364" stroke="#e9eaea" stroke-width="2"/>
<line x1="82.4" y1="1248.4" x2="837.3" y2="1248.4" stroke="#e9eaea" stroke-width="2"/>
<line x1="82.4" y1="1132.8" x2="837.3" y2="1132.8" stroke="#e9eaea" stroke-width="2"/>
<line x1="91.29" y1="1132.8" x2="91.29" y2="1364" stroke="#e9eaea" stroke-width="2"/>
<line x1="218.29" y1="1132.8" x2="218.29" y2="1364" stroke="#e9eaea" stroke-width="2"/>
<line x1="345.29" y1="1132.8" x2="345.29" y2="1364" stroke="#e9eaea" stroke-width="2"/>
<line x1="472.29" y1="1132.8" x2="472.29" y2="1364" stroke="#e9eaea" stroke-width="2"/>
<line x1="599.29" y1="1132.8" x2="599.29" y2="1364" stroke="#e9eaea" stroke-width="2"/>
<line x1="726.29" y1="1132.8" x2="726.29" y2="1364" stroke="#e9eaea" stroke-width="2"/>
<clipPath id="cl2"><rect x="82.4" y="1132.8" width="754.9" height="231.2"/></clipPath>
<g clip-path="url(#cl2)">
<polyline points="116.69,1248.52 192.89,1259.61 269.09,1233.49 345.29,1240.71 421.49,1246.09 497.69,1250.13 573.89,1238.98 650.09,1241.41 726.29,1250.13 802.49,1238.98" fill="none" stroke="#4c8cbf" stroke-width="4.4" stroke-linejoin="round" stroke-linecap="square"/>
<circle cx="116.69" cy="1248.52" r="5.9" fill="#4c8cbf" stroke="#4c8cbf" stroke-width="1.4" stroke-linejoin="miter"/>
<circle cx="192.89" cy="1259.61" r="5.9" fill="#4c8cbf" stroke="#4c8cbf" stroke-width="1.4" stroke-linejoin="miter"/>
<circle cx="269.09" cy="1233.49" r="5.9" fill="#4c8cbf" stroke="#4c8cbf" stroke-width="1.4" stroke-linejoin="miter"/>
<circle cx="345.29" cy="1240.71" r="5.9" fill="#4c8cbf" stroke="#4c8cbf" stroke-width="1.4" stroke-linejoin="miter"/>
<circle cx="421.49" cy="1246.09" r="5.9" fill="#4c8cbf" stroke="#4c8cbf" stroke-width="1.4" stroke-linejoin="miter"/>
<circle cx="497.69" cy="1250.13" r="5.9" fill="#4c8cbf" stroke="#4c8cbf" stroke-width="1.4" stroke-linejoin="miter"/>
<circle cx="573.89" cy="1238.98" r="5.9" fill="#4c8cbf" stroke="#4c8cbf" stroke-width="1.4" stroke-linejoin="miter"/>
<circle cx="650.09" cy="1241.41" r="5.9" fill="#4c8cbf" stroke="#4c8cbf" stroke-width="1.4" stroke-linejoin="miter"/>
<circle cx="726.29" cy="1250.13" r="5.9" fill="#4c8cbf" stroke="#4c8cbf" stroke-width="1.4" stroke-linejoin="miter"/>
<circle cx="802.49" cy="1238.98" r="5.9" fill="#4c8cbf" stroke="#4c8cbf" stroke-width="1.4" stroke-linejoin="miter"/>
<line x1="116.69" y1="1245.39" x2="802.49" y2="1245.39" stroke="#4c8cbf" stroke-width="4.6" stroke-dasharray="4.6 7.75"/>
<polyline points="116.69,1262.73 192.89,1262.04 269.09,1248.23 345.29,1246.09 421.49,1251.29 497.69,1247.07 573.89,1236.61 650.09,1246.61 726.29,1255.39 802.49,1246.61" fill="none" stroke="#d46b23" stroke-width="4.4" stroke-linejoin="round" stroke-linecap="square"/>
<rect x="110.79" y="1256.83" width="11.8" height="11.8" fill="#d46b23" stroke="#d46b23" stroke-width="1.4" stroke-linejoin="miter"/>
<rect x="186.99" y="1256.14" width="11.8" height="11.8" fill="#d46b23" stroke="#d46b23" stroke-width="1.4" stroke-linejoin="miter"/>
<rect x="263.19" y="1242.33" width="11.8" height="11.8" fill="#d46b23" stroke="#d46b23" stroke-width="1.4" stroke-linejoin="miter"/>
<rect x="339.39" y="1240.19" width="11.8" height="11.8" fill="#d46b23" stroke="#d46b23" stroke-width="1.4" stroke-linejoin="miter"/>
<rect x="415.59" y="1245.39" width="11.8" height="11.8" fill="#d46b23" stroke="#d46b23" stroke-width="1.4" stroke-linejoin="miter"/>
<rect x="491.79" y="1241.17" width="11.8" height="11.8" fill="#d46b23" stroke="#d46b23" stroke-width="1.4" stroke-linejoin="miter"/>
<rect x="567.99" y="1230.71" width="11.8" height="11.8" fill="#d46b23" stroke="#d46b23" stroke-width="1.4" stroke-linejoin="miter"/>
<rect x="644.19" y="1240.71" width="11.8" height="11.8" fill="#d46b23" stroke="#d46b23" stroke-width="1.4" stroke-linejoin="miter"/>
<rect x="720.39" y="1249.49" width="11.8" height="11.8" fill="#d46b23" stroke="#d46b23" stroke-width="1.4" stroke-linejoin="miter"/>
<rect x="796.59" y="1240.71" width="11.8" height="11.8" fill="#d46b23" stroke="#d46b23" stroke-width="1.4" stroke-linejoin="miter"/>
<line x1="116.69" y1="1251.81" x2="802.49" y2="1251.81" stroke="#d46b23" stroke-width="4.6" stroke-dasharray="4.6 7.75"/>
<polyline points="116.69,1265.62 192.89,1235.92 269.09,1219.79 345.29,1213.37 421.49,1209.1 497.69,1218.75 573.89,1188.46 650.09,1180.14 726.29,1182.05 802.49,1186.03" fill="none" stroke="#4cb93a" stroke-width="4.4" stroke-linejoin="round" stroke-linecap="square"/>
<path d="M116.69 1257.28L125.03 1265.62L116.69 1273.97L108.35 1265.62Z" fill="#4cb93a" stroke="#4cb93a" stroke-width="1.4" stroke-linejoin="miter"/>
<path d="M192.89 1227.57L201.23 1235.92L192.89 1244.26L184.55 1235.92Z" fill="#4cb93a" stroke="#4cb93a" stroke-width="1.4" stroke-linejoin="miter"/>
<path d="M269.09 1211.45L277.43 1219.79L269.09 1228.13L260.75 1219.79Z" fill="#4cb93a" stroke="#4cb93a" stroke-width="1.4" stroke-linejoin="miter"/>
<path d="M345.29 1205.03L353.63 1213.37L345.29 1221.72L336.95 1213.37Z" fill="#4cb93a" stroke="#4cb93a" stroke-width="1.4" stroke-linejoin="miter"/>
<path d="M421.49 1200.75L429.83 1209.1L421.49 1217.44L413.15 1209.1Z" fill="#4cb93a" stroke="#4cb93a" stroke-width="1.4" stroke-linejoin="miter"/>
<path d="M497.69 1210.4L506.03 1218.75L497.69 1227.09L489.35 1218.75Z" fill="#4cb93a" stroke="#4cb93a" stroke-width="1.4" stroke-linejoin="miter"/>
<path d="M573.89 1180.12L582.23 1188.46L573.89 1196.81L565.55 1188.46Z" fill="#4cb93a" stroke="#4cb93a" stroke-width="1.4" stroke-linejoin="miter"/>
<path d="M650.09 1171.79L658.43 1180.14L650.09 1188.48L641.75 1180.14Z" fill="#4cb93a" stroke="#4cb93a" stroke-width="1.4" stroke-linejoin="miter"/>
<path d="M726.29 1173.7L734.63 1182.05L726.29 1190.39L717.95 1182.05Z" fill="#4cb93a" stroke="#4cb93a" stroke-width="1.4" stroke-linejoin="miter"/>
<path d="M802.49 1177.69L810.83 1186.03L802.49 1194.38L794.15 1186.03Z" fill="#4cb93a" stroke="#4cb93a" stroke-width="1.4" stroke-linejoin="miter"/>
<line x1="116.69" y1="1221.7" x2="802.49" y2="1221.7" stroke="#4cb93a" stroke-width="4.6" stroke-dasharray="4.6 7.75"/>
<polyline points="116.69,1228.4 192.89,1230.77 269.09,1203.95 345.29,1190.43 421.49,1194.07 497.69,1186.96 573.89,1175.05 650.09,1175.75 726.29,1176.73 802.49,1168.64" fill="none" stroke="#d02c28" stroke-width="4.4" stroke-linejoin="round" stroke-linecap="square"/>
<path d="M116.69 1222.32L122.77 1234.48L110.61 1234.48Z" fill="#d02c28" stroke="#d02c28" stroke-width="1.4" stroke-linejoin="miter"/>
<path d="M192.89 1224.69L198.97 1236.85L186.81 1236.85Z" fill="#d02c28" stroke="#d02c28" stroke-width="1.4" stroke-linejoin="miter"/>
<path d="M269.09 1197.87L275.17 1210.03L263.01 1210.03Z" fill="#d02c28" stroke="#d02c28" stroke-width="1.4" stroke-linejoin="miter"/>
<path d="M345.29 1184.35L351.37 1196.5L339.21 1196.5Z" fill="#d02c28" stroke="#d02c28" stroke-width="1.4" stroke-linejoin="miter"/>
<path d="M421.49 1187.99L427.57 1200.14L415.41 1200.14Z" fill="#d02c28" stroke="#d02c28" stroke-width="1.4" stroke-linejoin="miter"/>
<path d="M497.69 1180.88L503.77 1193.04L491.61 1193.04Z" fill="#d02c28" stroke="#d02c28" stroke-width="1.4" stroke-linejoin="miter"/>
<path d="M573.89 1168.97L579.97 1181.13L567.81 1181.13Z" fill="#d02c28" stroke="#d02c28" stroke-width="1.4" stroke-linejoin="miter"/>
<path d="M650.09 1169.67L656.17 1181.82L644.01 1181.82Z" fill="#d02c28" stroke="#d02c28" stroke-width="1.4" stroke-linejoin="miter"/>
<path d="M726.29 1170.65L732.37 1182.81L720.21 1182.81Z" fill="#d02c28" stroke="#d02c28" stroke-width="1.4" stroke-linejoin="miter"/>
<path d="M802.49 1162.56L808.57 1174.71L796.41 1174.71Z" fill="#d02c28" stroke="#d02c28" stroke-width="1.4" stroke-linejoin="miter"/>
<line x1="116.69" y1="1201.47" x2="802.49" y2="1201.47" stroke="#d02c28" stroke-width="4.6" stroke-dasharray="4.6 7.75"/>
</g>
<text transform="translate(75.8 1370.9) scale(1 1.07)" font-size="18.1" text-anchor="end">0.5</text>
<text transform="translate(75.8 1255.3) scale(1 1.07)" font-size="18.1" text-anchor="end">0.7</text>
<text transform="translate(75.8 1139.7) scale(1 1.07)" font-size="18.1" text-anchor="end">0.9</text>
<text transform="translate(91.69 1386.2) scale(1 1.07)" font-size="18.1" text-anchor="middle">5</text>
<text transform="translate(218.69 1386.2) scale(1 1.07)" font-size="18.1" text-anchor="middle">10</text>
<text transform="translate(345.69 1386.2) scale(1 1.07)" font-size="18.1" text-anchor="middle">15</text>
<text transform="translate(472.69 1386.2) scale(1 1.07)" font-size="18.1" text-anchor="middle">20</text>
<text transform="translate(599.69 1386.2) scale(1 1.07)" font-size="18.1" text-anchor="middle">25</text>
<text transform="translate(726.69 1386.2) scale(1 1.07)" font-size="18.1" text-anchor="middle">30</text>
<text x="459.85" y="1414.8" font-size="22.1" text-anchor="middle">Time</text>
<text x="33.9" y="1249.2" font-size="22.1" text-anchor="middle" transform="rotate(-90 33.9 1249.2)">AUC</text>
<text x="459.85" y="1109.3" font-size="26" text-anchor="middle">External Validation 2</text>
<line x1="261.55" y1="1435.5" x2="298.35" y2="1435.5" stroke="#000" stroke-width="3.7" stroke-linecap="square"/>
<text x="313.45" y="1442.1" font-size="18.55">Time-dependent AUC</text>
<line x1="548.15" y1="1435.5" x2="585.15" y2="1435.5" stroke="#000" stroke-width="3.8" stroke-dasharray="3.8 6.2"/>
<text x="600.35" y="1442.1" font-size="18.55">mAUC</text>
<line x1="198.95" y1="1469.9" x2="236.45" y2="1469.9" stroke="#4c8cbf" stroke-width="4.2" stroke-linecap="square"/>
<text x="251.05" y="1463.8" font-size="18.55">CNN, IAUC=0.71,</text>
<text x="251.05" y="1486" font-size="18.55">95% CI: [0.66-0.75]</text>
<line x1="198.95" y1="1519.4" x2="236.45" y2="1519.4" stroke="#d46b23" stroke-width="4.2" stroke-linecap="square"/>
<text x="251.05" y="1513.3" font-size="18.55">ViT, IAUC=0.69,</text>
<text x="251.05" y="1535.5" font-size="18.55">95% CI: [0.65-0.74]</text>
<line x1="470.25" y1="1469.9" x2="507.75" y2="1469.9" stroke="#4cb93a" stroke-width="4.2" stroke-linecap="square"/>
<text x="522.65" y="1463.8" font-size="18.55">NIMT, IAUC=0.75,</text>
<text x="522.65" y="1486" font-size="18.55">95% CI: [0.70-0.78]</text>
<line x1="470.25" y1="1519.4" x2="507.75" y2="1519.4" stroke="#d02c28" stroke-width="4.2" stroke-linecap="square"/>
<text x="522.65" y="1513.3" font-size="18.55">GlioSurv, IAUC=0.78,</text>
<text x="522.65" y="1535.5" font-size="18.55">95% CI: [0.74-0.82]</text>
<line x1="988.2" y1="1364" x2="1743.1" y2="1364" stroke="#e9eaea" stroke-width="2"/>
<line x1="988.2" y1="1248.4" x2="1743.1" y2="1248.4" stroke="#e9eaea" stroke-width="2"/>
<line x1="988.2" y1="1132.8" x2="1743.1" y2="1132.8" stroke="#e9eaea" stroke-width="2"/>
<line x1="997.09" y1="1132.8" x2="997.09" y2="1364" stroke="#e9eaea" stroke-width="2"/>
<line x1="1124.09" y1="1132.8" x2="1124.09" y2="1364" stroke="#e9eaea" stroke-width="2"/>
<line x1="1251.09" y1="1132.8" x2="1251.09" y2="1364" stroke="#e9eaea" stroke-width="2"/>
<line x1="1378.09" y1="1132.8" x2="1378.09" y2="1364" stroke="#e9eaea" stroke-width="2"/>
<line x1="1505.09" y1="1132.8" x2="1505.09" y2="1364" stroke="#e9eaea" stroke-width="2"/>
<line x1="1632.09" y1="1132.8" x2="1632.09" y2="1364" stroke="#e9eaea" stroke-width="2"/>
<clipPath id="cl3"><rect x="988.2" y="1132.8" width="754.9" height="231.2"/></clipPath>
<g clip-path="url(#cl3)">
<polyline points="1022.49,1309.09 1098.69,1293.54 1174.89,1302.33 1251.09,1305.97 1327.29,1320.19 1403.49,1323.71 1479.69,1327.99 1555.89,1327.99 1632.09,1322.56 1708.29,1314.93" fill="none" stroke="#4c8cbf" stroke-width="4.4" stroke-linejoin="round" stroke-linecap="square"/>
<circle cx="1022.49" cy="1309.09" r="5.9" fill="#4c8cbf" stroke="#4c8cbf" stroke-width="1.4" stroke-linejoin="miter"/>
<circle cx="1098.69" cy="1293.54" r="5.9" fill="#4c8cbf" stroke="#4c8cbf" stroke-width="1.4" stroke-linejoin="miter"/>
<circle cx="1174.89" cy="1302.33" r="5.9" fill="#4c8cbf" stroke="#4c8cbf" stroke-width="1.4" stroke-linejoin="miter"/>
<circle cx="1251.09" cy="1305.97" r="5.9" fill="#4c8cbf" stroke="#4c8cbf" stroke-width="1.4" stroke-linejoin="miter"/>
<circle cx="1327.29" cy="1320.19" r="5.9" fill="#4c8cbf" stroke="#4c8cbf" stroke-width="1.4" stroke-linejoin="miter"/>
<circle cx="1403.49" cy="1323.71" r="5.9" fill="#4c8cbf" stroke="#4c8cbf" stroke-width="1.4" stroke-linejoin="miter"/>
<circle cx="1479.69" cy="1327.99" r="5.9" fill="#4c8cbf" stroke="#4c8cbf" stroke-width="1.4" stroke-linejoin="miter"/>
<circle cx="1555.89" cy="1327.99" r="5.9" fill="#4c8cbf" stroke="#4c8cbf" stroke-width="1.4" stroke-linejoin="miter"/>
<circle cx="1632.09" cy="1322.56" r="5.9" fill="#4c8cbf" stroke="#4c8cbf" stroke-width="1.4" stroke-linejoin="miter"/>
<circle cx="1708.29" cy="1314.93" r="5.9" fill="#4c8cbf" stroke="#4c8cbf" stroke-width="1.4" stroke-linejoin="miter"/>
<line x1="1022.49" y1="1310.13" x2="1708.29" y2="1310.13" stroke="#4c8cbf" stroke-width="4.6" stroke-dasharray="4.6 7.75"/>
<polyline points="1022.49,1304.23 1098.69,1281.75 1174.89,1301.46 1251.09,1293.54 1327.29,1308.51 1403.49,1303.54 1479.69,1314.93 1555.89,1318.45 1632.09,1329.15 1708.29,1324.46" fill="none" stroke="#d46b23" stroke-width="4.4" stroke-linejoin="round" stroke-linecap="square"/>
<rect x="1016.59" y="1298.33" width="11.8" height="11.8" fill="#d46b23" stroke="#d46b23" stroke-width="1.4" stroke-linejoin="miter"/>
<rect x="1092.79" y="1275.85" width="11.8" height="11.8" fill="#d46b23" stroke="#d46b23" stroke-width="1.4" stroke-linejoin="miter"/>
<rect x="1168.99" y="1295.56" width="11.8" height="11.8" fill="#d46b23" stroke="#d46b23" stroke-width="1.4" stroke-linejoin="miter"/>
<rect x="1245.19" y="1287.64" width="11.8" height="11.8" fill="#d46b23" stroke="#d46b23" stroke-width="1.4" stroke-linejoin="miter"/>
<rect x="1321.39" y="1302.61" width="11.8" height="11.8" fill="#d46b23" stroke="#d46b23" stroke-width="1.4" stroke-linejoin="miter"/>
<rect x="1397.59" y="1297.64" width="11.8" height="11.8" fill="#d46b23" stroke="#d46b23" stroke-width="1.4" stroke-linejoin="miter"/>
<rect x="1473.79" y="1309.03" width="11.8" height="11.8" fill="#d46b23" stroke="#d46b23" stroke-width="1.4" stroke-linejoin="miter"/>
<rect x="1549.99" y="1312.55" width="11.8" height="11.8" fill="#d46b23" stroke="#d46b23" stroke-width="1.4" stroke-linejoin="miter"/>
<rect x="1626.19" y="1323.25" width="11.8" height="11.8" fill="#d46b23" stroke="#d46b23" stroke-width="1.4" stroke-linejoin="miter"/>
<rect x="1702.39" y="1318.56" width="11.8" height="11.8" fill="#d46b23" stroke="#d46b23" stroke-width="1.4" stroke-linejoin="miter"/>
<line x1="1022.49" y1="1301.87" x2="1708.29" y2="1301.87" stroke="#d46b23" stroke-width="4.6" stroke-dasharray="4.6 7.75"/>
<polyline points="1022.49,1294.06 1098.69,1277.01 1174.89,1289.55 1251.09,1295.97 1327.29,1299.55 1403.49,1319.26 1479.69,1330.36 1555.89,1329.15 1632.09,1329.15 1708.29,1332.27" fill="none" stroke="#4cb93a" stroke-width="4.4" stroke-linejoin="round" stroke-linecap="square"/>
<path d="M1022.49 1285.72L1030.83 1294.06L1022.49 1302.41L1014.15 1294.06Z" fill="#4cb93a" stroke="#4cb93a" stroke-width="1.4" stroke-linejoin="miter"/>
<path d="M1098.69 1268.67L1107.03 1277.01L1098.69 1285.35L1090.35 1277.01Z" fill="#4cb93a" stroke="#4cb93a" stroke-width="1.4" stroke-linejoin="miter"/>
<path d="M1174.89 1281.21L1183.23 1289.55L1174.89 1297.9L1166.55 1289.55Z" fill="#4cb93a" stroke="#4cb93a" stroke-width="1.4" stroke-linejoin="miter"/>
<path d="M1251.09 1287.63L1259.43 1295.97L1251.09 1304.31L1242.75 1295.97Z" fill="#4cb93a" stroke="#4cb93a" stroke-width="1.4" stroke-linejoin="miter"/>
<path d="M1327.29 1291.21L1335.63 1299.55L1327.29 1307.9L1318.95 1299.55Z" fill="#4cb93a" stroke="#4cb93a" stroke-width="1.4" stroke-linejoin="miter"/>
<path d="M1403.49 1310.92L1411.83 1319.26L1403.49 1327.61L1395.15 1319.26Z" fill="#4cb93a" stroke="#4cb93a" stroke-width="1.4" stroke-linejoin="miter"/>
<path d="M1479.69 1322.02L1488.03 1330.36L1479.69 1338.7L1471.35 1330.36Z" fill="#4cb93a" stroke="#4cb93a" stroke-width="1.4" stroke-linejoin="miter"/>
<path d="M1555.89 1320.8L1564.23 1329.15L1555.89 1337.49L1547.55 1329.15Z" fill="#4cb93a" stroke="#4cb93a" stroke-width="1.4" stroke-linejoin="miter"/>
<path d="M1632.09 1320.8L1640.43 1329.15L1632.09 1337.49L1623.75 1329.15Z" fill="#4cb93a" stroke="#4cb93a" stroke-width="1.4" stroke-linejoin="miter"/>
<path d="M1708.29 1323.92L1716.63 1332.27L1708.29 1340.61L1699.95 1332.27Z" fill="#4cb93a" stroke="#4cb93a" stroke-width="1.4" stroke-linejoin="miter"/>
<line x1="1022.49" y1="1301.11" x2="1708.29" y2="1301.11" stroke="#4cb93a" stroke-width="4.6" stroke-dasharray="4.6 7.75"/>
<polyline points="1022.49,1271.4 1098.69,1247.71 1174.89,1267.59 1251.09,1257.19 1327.29,1267.59 1403.49,1256.43 1479.69,1257.59 1555.89,1249.79 1632.09,1260.71 1708.29,1258.8" fill="none" stroke="#d02c28" stroke-width="4.4" stroke-linejoin="round" stroke-linecap="square"/>
<path d="M1022.49 1265.33L1028.57 1277.48L1016.41 1277.48Z" fill="#d02c28" stroke="#d02c28" stroke-width="1.4" stroke-linejoin="miter"/>
<path d="M1098.69 1241.63L1104.77 1253.78L1092.61 1253.78Z" fill="#d02c28" stroke="#d02c28" stroke-width="1.4" stroke-linejoin="miter"/>
<path d="M1174.89 1261.51L1180.97 1273.67L1168.81 1273.67Z" fill="#d02c28" stroke="#d02c28" stroke-width="1.4" stroke-linejoin="miter"/>
<path d="M1251.09 1251.11L1257.17 1263.26L1245.01 1263.26Z" fill="#d02c28" stroke="#d02c28" stroke-width="1.4" stroke-linejoin="miter"/>
<path d="M1327.29 1261.51L1333.37 1273.67L1321.21 1273.67Z" fill="#d02c28" stroke="#d02c28" stroke-width="1.4" stroke-linejoin="miter"/>
<path d="M1403.49 1250.36L1409.57 1262.51L1397.41 1262.51Z" fill="#d02c28" stroke="#d02c28" stroke-width="1.4" stroke-linejoin="miter"/>
<path d="M1479.69 1251.51L1485.77 1263.67L1473.61 1263.67Z" fill="#d02c28" stroke="#d02c28" stroke-width="1.4" stroke-linejoin="miter"/>
<path d="M1555.89 1243.71L1561.97 1255.86L1549.81 1255.86Z" fill="#d02c28" stroke="#d02c28" stroke-width="1.4" stroke-linejoin="miter"/>
<path d="M1632.09 1254.63L1638.17 1266.79L1626.01 1266.79Z" fill="#d02c28" stroke="#d02c28" stroke-width="1.4" stroke-linejoin="miter"/>
<path d="M1708.29 1252.73L1714.37 1264.88L1702.21 1264.88Z" fill="#d02c28" stroke="#d02c28" stroke-width="1.4" stroke-linejoin="miter"/>
<line x1="1022.49" y1="1261.98" x2="1708.29" y2="1261.98" stroke="#d02c28" stroke-width="4.6" stroke-dasharray="4.6 7.75"/>
</g>
<text transform="translate(981.6 1370.9) scale(1 1.07)" font-size="18.1" text-anchor="end">0.5</text>
<text transform="translate(981.6 1255.3) scale(1 1.07)" font-size="18.1" text-anchor="end">0.7</text>
<text transform="translate(981.6 1139.7) scale(1 1.07)" font-size="18.1" text-anchor="end">0.9</text>
<text transform="translate(997.49 1386.2) scale(1 1.07)" font-size="18.1" text-anchor="middle">5</text>
<text transform="translate(1124.49 1386.2) scale(1 1.07)" font-size="18.1" text-anchor="middle">10</text>
<text transform="translate(1251.49 1386.2) scale(1 1.07)" font-size="18.1" text-anchor="middle">15</text>
<text transform="translate(1378.49 1386.2) scale(1 1.07)" font-size="18.1" text-anchor="middle">20</text>
<text transform="translate(1505.49 1386.2) scale(1 1.07)" font-size="18.1" text-anchor="middle">25</text>
<text transform="translate(1632.49 1386.2) scale(1 1.07)" font-size="18.1" text-anchor="middle">30</text>
<text x="1365.65" y="1414.8" font-size="22.1" text-anchor="middle">Time</text>
<text x="939.7" y="1249.2" font-size="22.1" text-anchor="middle" transform="rotate(-90 939.7 1249.2)">AUC</text>
<text x="1365.65" y="1109.3" font-size="26" text-anchor="middle">External Validation 3</text>
<line x1="1167.35" y1="1435.5" x2="1204.15" y2="1435.5" stroke="#000" stroke-width="3.7" stroke-linecap="square"/>
<text x="1219.25" y="1442.1" font-size="18.55">Time-dependent AUC</text>
<line x1="1453.95" y1="1435.5" x2="1490.95" y2="1435.5" stroke="#000" stroke-width="3.8" stroke-dasharray="3.8 6.2"/>
<text x="1506.15" y="1442.1" font-size="18.55">mAUC</text>
<line x1="1104.75" y1="1469.9" x2="1142.25" y2="1469.9" stroke="#4c8cbf" stroke-width="4.2" stroke-linecap="square"/>
<text x="1156.85" y="1463.8" font-size="18.55">CNN, IAUC=0.59,</text>
<text x="1156.85" y="1486" font-size="18.55">95% CI: [0.55-0.64]</text>
<line x1="1104.75" y1="1519.4" x2="1142.25" y2="1519.4" stroke="#d46b23" stroke-width="4.2" stroke-linecap="square"/>
<text x="1156.85" y="1513.3" font-size="18.55">ViT, IAUC=0.61,</text>
<text x="1156.85" y="1535.5" font-size="18.55">95% CI: [0.57-0.65]</text>
<line x1="1376.05" y1="1469.9" x2="1413.55" y2="1469.9" stroke="#4cb93a" stroke-width="4.2" stroke-linecap="square"/>
<text x="1428.45" y="1463.8" font-size="18.55">NIMT, IAUC=0.61,</text>
<text x="1428.45" y="1486" font-size="18.55">95% CI: [0.57-0.65]</text>
<line x1="1376.05" y1="1519.4" x2="1413.55" y2="1519.4" stroke="#d02c28" stroke-width="4.2" stroke-linecap="square"/>
<text x="1428.45" y="1513.3" font-size="18.55">GlioSurv, IAUC=0.68,</text>
<text x="1428.45" y="1535.5" font-size="18.55">95% CI: [0.64-0.71]</text>
<line x1="82.4" y1="1858.4" x2="837.3" y2="1858.4" stroke="#e9eaea" stroke-width="2"/>
<line x1="82.4" y1="1765.92" x2="837.3" y2="1765.92" stroke="#e9eaea" stroke-width="2"/>
<line x1="82.4" y1="1673.44" x2="837.3" y2="1673.44" stroke="#e9eaea" stroke-width="2"/>
<line x1="91.29" y1="1627.2" x2="91.29" y2="1858.4" stroke="#e9eaea" stroke-width="2"/>
<line x1="218.29" y1="1627.2" x2="218.29" y2="1858.4" stroke="#e9eaea" stroke-width="2"/>
<line x1="345.29" y1="1627.2" x2="345.29" y2="1858.4" stroke="#e9eaea" stroke-width="2"/>
<line x1="472.29" y1="1627.2" x2="472.29" y2="1858.4" stroke="#e9eaea" stroke-width="2"/>
<line x1="599.29" y1="1627.2" x2="599.29" y2="1858.4" stroke="#e9eaea" stroke-width="2"/>
<line x1="726.29" y1="1627.2" x2="726.29" y2="1858.4" stroke="#e9eaea" stroke-width="2"/>
<clipPath id="cl4"><rect x="82.4" y="1627.2" width="754.9" height="231.2"/></clipPath>
<g clip-path="url(#cl4)">
<polyline points="116.69,1841.75 192.89,1821.41 269.09,1806.61 345.29,1798.29 421.49,1787.19 497.69,1784.42 573.89,1781.87 650.09,1772.39 726.29,1775.49 802.49,1778.87" fill="none" stroke="#4c8cbf" stroke-width="4.4" stroke-linejoin="round" stroke-linecap="square"/>
<circle cx="116.69" cy="1841.75" r="5.9" fill="#4c8cbf" stroke="#4c8cbf" stroke-width="1.4" stroke-linejoin="miter"/>
<circle cx="192.89" cy="1821.41" r="5.9" fill="#4c8cbf" stroke="#4c8cbf" stroke-width="1.4" stroke-linejoin="miter"/>
<circle cx="269.09" cy="1806.61" r="5.9" fill="#4c8cbf" stroke="#4c8cbf" stroke-width="1.4" stroke-linejoin="miter"/>
<circle cx="345.29" cy="1798.29" r="5.9" fill="#4c8cbf" stroke="#4c8cbf" stroke-width="1.4" stroke-linejoin="miter"/>
<circle cx="421.49" cy="1787.19" r="5.9" fill="#4c8cbf" stroke="#4c8cbf" stroke-width="1.4" stroke-linejoin="miter"/>
<circle cx="497.69" cy="1784.42" r="5.9" fill="#4c8cbf" stroke="#4c8cbf" stroke-width="1.4" stroke-linejoin="miter"/>
<circle cx="573.89" cy="1781.87" r="5.9" fill="#4c8cbf" stroke="#4c8cbf" stroke-width="1.4" stroke-linejoin="miter"/>
<circle cx="650.09" cy="1772.39" r="5.9" fill="#4c8cbf" stroke="#4c8cbf" stroke-width="1.4" stroke-linejoin="miter"/>
<circle cx="726.29" cy="1775.49" r="5.9" fill="#4c8cbf" stroke="#4c8cbf" stroke-width="1.4" stroke-linejoin="miter"/>
<circle cx="802.49" cy="1778.87" r="5.9" fill="#4c8cbf" stroke="#4c8cbf" stroke-width="1.4" stroke-linejoin="miter"/>
<line x1="116.69" y1="1792.97" x2="802.49" y2="1792.97" stroke="#4c8cbf" stroke-width="4.6" stroke-dasharray="4.6 7.75"/>
<polyline points="116.69,1841.11 192.89,1819.74 269.09,1804.3 345.29,1797.83 421.49,1785.34 497.69,1780.72 573.89,1779.51 650.09,1778.31 726.29,1780.72 802.49,1789.04" fill="none" stroke="#d46b23" stroke-width="4.4" stroke-linejoin="round" stroke-linecap="square"/>
<rect x="110.79" y="1835.21" width="11.8" height="11.8" fill="#d46b23" stroke="#d46b23" stroke-width="1.4" stroke-linejoin="miter"/>
<rect x="186.99" y="1813.84" width="11.8" height="11.8" fill="#d46b23" stroke="#d46b23" stroke-width="1.4" stroke-linejoin="miter"/>
<rect x="263.19" y="1798.4" width="11.8" height="11.8" fill="#d46b23" stroke="#d46b23" stroke-width="1.4" stroke-linejoin="miter"/>
<rect x="339.39" y="1791.93" width="11.8" height="11.8" fill="#d46b23" stroke="#d46b23" stroke-width="1.4" stroke-linejoin="miter"/>
<rect x="415.59" y="1779.44" width="11.8" height="11.8" fill="#d46b23" stroke="#d46b23" stroke-width="1.4" stroke-linejoin="miter"/>
<rect x="491.79" y="1774.82" width="11.8" height="11.8" fill="#d46b23" stroke="#d46b23" stroke-width="1.4" stroke-linejoin="miter"/>
<rect x="567.99" y="1773.61" width="11.8" height="11.8" fill="#d46b23" stroke="#d46b23" stroke-width="1.4" stroke-linejoin="miter"/>
<rect x="644.19" y="1772.41" width="11.8" height="11.8" fill="#d46b23" stroke="#d46b23" stroke-width="1.4" stroke-linejoin="miter"/>
<rect x="720.39" y="1774.82" width="11.8" height="11.8" fill="#d46b23" stroke="#d46b23" stroke-width="1.4" stroke-linejoin="miter"/>
<rect x="796.59" y="1783.14" width="11.8" height="11.8" fill="#d46b23" stroke="#d46b23" stroke-width="1.4" stroke-linejoin="miter"/>
<line x1="116.69" y1="1794.87" x2="802.49" y2="1794.87" stroke="#d46b23" stroke-width="4.6" stroke-dasharray="4.6 7.75"/>
<polyline points="116.69,1843 192.89,1822.15 269.09,1805.55 345.29,1795.37 421.49,1787.79 497.69,1785.9 573.89,1785.8 650.09,1785.8 726.29,1785.9 802.49,1787.79" fill="none" stroke="#4cb93a" stroke-width="4.4" stroke-linejoin="round" stroke-linecap="square"/>
<path d="M116.69 1834.66L125.03 1843L116.69 1851.35L108.35 1843Z" fill="#4cb93a" stroke="#4cb93a" stroke-width="1.4" stroke-linejoin="miter"/>
<path d="M192.89 1813.8L201.23 1822.15L192.89 1830.49L184.55 1822.15Z" fill="#4cb93a" stroke="#4cb93a" stroke-width="1.4" stroke-linejoin="miter"/>
<path d="M269.09 1797.2L277.43 1805.55L269.09 1813.89L260.75 1805.55Z" fill="#4cb93a" stroke="#4cb93a" stroke-width="1.4" stroke-linejoin="miter"/>
<path d="M345.29 1787.03L353.63 1795.37L345.29 1803.72L336.95 1795.37Z" fill="#4cb93a" stroke="#4cb93a" stroke-width="1.4" stroke-linejoin="miter"/>
<path d="M421.49 1779.45L429.83 1787.79L421.49 1796.14L413.15 1787.79Z" fill="#4cb93a" stroke="#4cb93a" stroke-width="1.4" stroke-linejoin="miter"/>
<path d="M497.69 1777.55L506.03 1785.9L497.69 1794.24L489.35 1785.9Z" fill="#4cb93a" stroke="#4cb93a" stroke-width="1.4" stroke-linejoin="miter"/>
<path d="M573.89 1777.46L582.23 1785.8L573.89 1794.15L565.55 1785.8Z" fill="#4cb93a" stroke="#4cb93a" stroke-width="1.4" stroke-linejoin="miter"/>
<path d="M650.09 1777.46L658.43 1785.8L650.09 1794.15L641.75 1785.8Z" fill="#4cb93a" stroke="#4cb93a" stroke-width="1.4" stroke-linejoin="miter"/>
<path d="M726.29 1777.55L734.63 1785.9L726.29 1794.24L717.95 1785.9Z" fill="#4cb93a" stroke="#4cb93a" stroke-width="1.4" stroke-linejoin="miter"/>
<path d="M802.49 1779.45L810.83 1787.79L802.49 1796.14L794.15 1787.79Z" fill="#4cb93a" stroke="#4cb93a" stroke-width="1.4" stroke-linejoin="miter"/>
<line x1="116.69" y1="1796.76" x2="802.49" y2="1796.76" stroke="#4cb93a" stroke-width="4.6" stroke-dasharray="4.6 7.75"/>
<polyline points="116.69,1844.3 192.89,1827.74 269.09,1813.45 345.29,1804.07 421.49,1802.91 497.69,1807.07 573.89,1807.07 650.09,1807.07 726.29,1808.78 802.49,1810.45" fill="none" stroke="#d02c28" stroke-width="4.4" stroke-linejoin="round" stroke-linecap="square"/>
<path d="M116.69 1838.22L122.77 1850.37L110.61 1850.37Z" fill="#d02c28" stroke="#d02c28" stroke-width="1.4" stroke-linejoin="miter"/>
<path d="M192.89 1821.67L198.97 1833.82L186.81 1833.82Z" fill="#d02c28" stroke="#d02c28" stroke-width="1.4" stroke-linejoin="miter"/>
<path d="M269.09 1807.38L275.17 1819.53L263.01 1819.53Z" fill="#d02c28" stroke="#d02c28" stroke-width="1.4" stroke-linejoin="miter"/>
<path d="M345.29 1797.99L351.37 1810.15L339.21 1810.15Z" fill="#d02c28" stroke="#d02c28" stroke-width="1.4" stroke-linejoin="miter"/>
<path d="M421.49 1796.84L427.57 1808.99L415.41 1808.99Z" fill="#d02c28" stroke="#d02c28" stroke-width="1.4" stroke-linejoin="miter"/>
<path d="M497.69 1801L503.77 1813.15L491.61 1813.15Z" fill="#d02c28" stroke="#d02c28" stroke-width="1.4" stroke-linejoin="miter"/>
<path d="M573.89 1801L579.97 1813.15L567.81 1813.15Z" fill="#d02c28" stroke="#d02c28" stroke-width="1.4" stroke-linejoin="miter"/>
<path d="M650.09 1801L656.17 1813.15L644.01 1813.15Z" fill="#d02c28" stroke="#d02c28" stroke-width="1.4" stroke-linejoin="miter"/>
<path d="M726.29 1802.71L732.37 1814.86L720.21 1814.86Z" fill="#d02c28" stroke="#d02c28" stroke-width="1.4" stroke-linejoin="miter"/>
<path d="M802.49 1804.37L808.57 1816.53L796.41 1816.53Z" fill="#d02c28" stroke="#d02c28" stroke-width="1.4" stroke-linejoin="miter"/>
<line x1="116.69" y1="1811.47" x2="802.49" y2="1811.47" stroke="#d02c28" stroke-width="4.6" stroke-dasharray="4.6 7.75"/>
</g>
<text transform="translate(75.8 1865.3) scale(1 1.07)" font-size="18.1" text-anchor="end">0.0</text>
<text transform="translate(75.8 1772.82) scale(1 1.07)" font-size="18.1" text-anchor="end">0.2</text>
<text transform="translate(75.8 1680.34) scale(1 1.07)" font-size="18.1" text-anchor="end">0.4</text>
<text transform="translate(91.69 1880.6) scale(1 1.07)" font-size="18.1" text-anchor="middle">5</text>
<text transform="translate(218.69 1880.6) scale(1 1.07)" font-size="18.1" text-anchor="middle">10</text>
<text transform="translate(345.69 1880.6) scale(1 1.07)" font-size="18.1" text-anchor="middle">15</text>
<text transform="translate(472.69 1880.6) scale(1 1.07)" font-size="18.1" text-anchor="middle">20</text>
<text transform="translate(599.69 1880.6) scale(1 1.07)" font-size="18.1" text-anchor="middle">25</text>
<text transform="translate(726.69 1880.6) scale(1 1.07)" font-size="18.1" text-anchor="middle">30</text>
<text x="459.85" y="1909.2" font-size="22.1" text-anchor="middle">Time</text>
<text x="33.9" y="1743.6" font-size="22.1" text-anchor="middle" transform="rotate(-90 33.9 1743.6)">Brier Score</text>
<text x="459.85" y="1603.7" font-size="26" text-anchor="middle">Internal Validation</text>
<line x1="155.45" y1="1929.9" x2="192.25" y2="1929.9" stroke="#000" stroke-width="3.7" stroke-linecap="square"/>
<text x="207.55" y="1936.5" font-size="18.55">Time-dependent Brier Score</text>
<line x1="505.15" y1="1929.9" x2="542.15" y2="1929.9" stroke="#000" stroke-width="3.8" stroke-dasharray="3.8 6.2"/>
<text x="557.45" y="1936.5" font-size="18.55">Integrated Brier Score</text>
<line x1="206.55" y1="1964.3" x2="244.05" y2="1964.3" stroke="#4c8cbf" stroke-width="4.2" stroke-linecap="square"/>
<text x="258.85" y="1958.2" font-size="18.55">CNN, IBS=0.14,</text>
<text x="258.85" y="1980.4" font-size="18.55">95% CI: [0.11-0.17]</text>
<line x1="206.55" y1="2013.8" x2="244.05" y2="2013.8" stroke="#d46b23" stroke-width="4.2" stroke-linecap="square"/>
<text x="258.85" y="2007.7" font-size="18.55">ViT, IBS=0.14,</text>
<text x="258.85" y="2029.9" font-size="18.55">95% CI: [0.11-0.16]</text>
<line x1="478.05" y1="1964.3" x2="515.55" y2="1964.3" stroke="#4cb93a" stroke-width="4.2" stroke-linecap="square"/>
<text x="530.35" y="1958.2" font-size="18.55">NIMT, IBS=0.13,</text>
<text x="530.35" y="1980.4" font-size="18.55">95% CI: [0.12-0.15]</text>
<line x1="478.05" y1="2013.8" x2="515.55" y2="2013.8" stroke="#d02c28" stroke-width="4.2" stroke-linecap="square"/>
<text x="530.35" y="2007.7" font-size="18.55">GlioSurv, IBS=0.10,</text>
<text x="530.35" y="2029.9" font-size="18.55">95% CI: [0.08-0.12]</text>
<line x1="988.2" y1="1858.4" x2="1743.1" y2="1858.4" stroke="#e9eaea" stroke-width="2"/>
<line x1="988.2" y1="1765.92" x2="1743.1" y2="1765.92" stroke="#e9eaea" stroke-width="2"/>
<line x1="988.2" y1="1673.44" x2="1743.1" y2="1673.44" stroke="#e9eaea" stroke-width="2"/>
<line x1="997.09" y1="1627.2" x2="997.09" y2="1858.4" stroke="#e9eaea" stroke-width="2"/>
<line x1="1124.09" y1="1627.2" x2="1124.09" y2="1858.4" stroke="#e9eaea" stroke-width="2"/>
<line x1="1251.09" y1="1627.2" x2="1251.09" y2="1858.4" stroke="#e9eaea" stroke-width="2"/>
<line x1="1378.09" y1="1627.2" x2="1378.09" y2="1858.4" stroke="#e9eaea" stroke-width="2"/>
<line x1="1505.09" y1="1627.2" x2="1505.09" y2="1858.4" stroke="#e9eaea" stroke-width="2"/>
<line x1="1632.09" y1="1627.2" x2="1632.09" y2="1858.4" stroke="#e9eaea" stroke-width="2"/>
<clipPath id="cl5"><rect x="988.2" y="1627.2" width="754.9" height="231.2"/></clipPath>
<g clip-path="url(#cl5)">
<polyline points="1022.49,1816.78 1098.69,1793.66 1174.89,1781.64 1251.09,1762.22 1327.29,1726.75 1403.49,1716.77 1479.69,1718.48 1555.89,1719.59 1632.09,1717.28 1708.29,1721.07" fill="none" stroke="#4c8cbf" stroke-width="4.4" stroke-linejoin="round" stroke-linecap="square"/>
<circle cx="1022.49" cy="1816.78" r="5.9" fill="#4c8cbf" stroke="#4c8cbf" stroke-width="1.4" stroke-linejoin="miter"/>
<circle cx="1098.69" cy="1793.66" r="5.9" fill="#4c8cbf" stroke="#4c8cbf" stroke-width="1.4" stroke-linejoin="miter"/>
<circle cx="1174.89" cy="1781.64" r="5.9" fill="#4c8cbf" stroke="#4c8cbf" stroke-width="1.4" stroke-linejoin="miter"/>
<circle cx="1251.09" cy="1762.22" r="5.9" fill="#4c8cbf" stroke="#4c8cbf" stroke-width="1.4" stroke-linejoin="miter"/>
<circle cx="1327.29" cy="1726.75" r="5.9" fill="#4c8cbf" stroke="#4c8cbf" stroke-width="1.4" stroke-linejoin="miter"/>
<circle cx="1403.49" cy="1716.77" r="5.9" fill="#4c8cbf" stroke="#4c8cbf" stroke-width="1.4" stroke-linejoin="miter"/>
<circle cx="1479.69" cy="1718.48" r="5.9" fill="#4c8cbf" stroke="#4c8cbf" stroke-width="1.4" stroke-linejoin="miter"/>
<circle cx="1555.89" cy="1719.59" r="5.9" fill="#4c8cbf" stroke="#4c8cbf" stroke-width="1.4" stroke-linejoin="miter"/>
<circle cx="1632.09" cy="1717.28" r="5.9" fill="#4c8cbf" stroke="#4c8cbf" stroke-width="1.4" stroke-linejoin="miter"/>
<circle cx="1708.29" cy="1721.07" r="5.9" fill="#4c8cbf" stroke="#4c8cbf" stroke-width="1.4" stroke-linejoin="miter"/>
<line x1="1022.49" y1="1746.36" x2="1708.29" y2="1746.36" stroke="#4c8cbf" stroke-width="4.6" stroke-dasharray="4.6 7.75"/>
<polyline points="1022.49,1812.67 1098.69,1790.2 1174.89,1777.9 1251.09,1752.74 1327.29,1721.07 1403.49,1727.45 1479.69,1727.86 1555.89,1726.29 1632.09,1724.4 1708.29,1726.29" fill="none" stroke="#d46b23" stroke-width="4.4" stroke-linejoin="round" stroke-linecap="square"/>
<rect x="1016.59" y="1806.77" width="11.8" height="11.8" fill="#d46b23" stroke="#d46b23" stroke-width="1.4" stroke-linejoin="miter"/>
<rect x="1092.79" y="1784.3" width="11.8" height="11.8" fill="#d46b23" stroke="#d46b23" stroke-width="1.4" stroke-linejoin="miter"/>
<rect x="1168.99" y="1772" width="11.8" height="11.8" fill="#d46b23" stroke="#d46b23" stroke-width="1.4" stroke-linejoin="miter"/>
<rect x="1245.19" y="1746.84" width="11.8" height="11.8" fill="#d46b23" stroke="#d46b23" stroke-width="1.4" stroke-linejoin="miter"/>
<rect x="1321.39" y="1715.17" width="11.8" height="11.8" fill="#d46b23" stroke="#d46b23" stroke-width="1.4" stroke-linejoin="miter"/>
<rect x="1397.59" y="1721.55" width="11.8" height="11.8" fill="#d46b23" stroke="#d46b23" stroke-width="1.4" stroke-linejoin="miter"/>
<rect x="1473.79" y="1721.96" width="11.8" height="11.8" fill="#d46b23" stroke="#d46b23" stroke-width="1.4" stroke-linejoin="miter"/>
<rect x="1549.99" y="1720.39" width="11.8" height="11.8" fill="#d46b23" stroke="#d46b23" stroke-width="1.4" stroke-linejoin="miter"/>
<rect x="1626.19" y="1718.5" width="11.8" height="11.8" fill="#d46b23" stroke="#d46b23" stroke-width="1.4" stroke-linejoin="miter"/>
<rect x="1702.39" y="1720.39" width="11.8" height="11.8" fill="#d46b23" stroke="#d46b23" stroke-width="1.4" stroke-linejoin="miter"/>
<line x1="1022.49" y1="1746.36" x2="1708.29" y2="1746.36" stroke="#d46b23" stroke-width="4.6" stroke-dasharray="4.6 7.75"/>
<polyline points="1022.49,1820.25 1098.69,1792.6 1174.89,1781.41 1251.09,1770.73 1327.29,1754.22 1403.49,1756.35 1479.69,1759.86 1555.89,1764.12 1632.09,1775.49 1708.29,1777.2" fill="none" stroke="#4cb93a" stroke-width="4.4" stroke-linejoin="round" stroke-linecap="square"/>
<path d="M1022.49 1811.91L1030.83 1820.25L1022.49 1828.6L1014.15 1820.25Z" fill="#4cb93a" stroke="#4cb93a" stroke-width="1.4" stroke-linejoin="miter"/>
<path d="M1098.69 1784.26L1107.03 1792.6L1098.69 1800.94L1090.35 1792.6Z" fill="#4cb93a" stroke="#4cb93a" stroke-width="1.4" stroke-linejoin="miter"/>
<path d="M1174.89 1773.07L1183.23 1781.41L1174.89 1789.75L1166.55 1781.41Z" fill="#4cb93a" stroke="#4cb93a" stroke-width="1.4" stroke-linejoin="miter"/>
<path d="M1251.09 1762.39L1259.43 1770.73L1251.09 1779.07L1242.75 1770.73Z" fill="#4cb93a" stroke="#4cb93a" stroke-width="1.4" stroke-linejoin="miter"/>
<path d="M1327.29 1745.88L1335.63 1754.22L1327.29 1762.57L1318.95 1754.22Z" fill="#4cb93a" stroke="#4cb93a" stroke-width="1.4" stroke-linejoin="miter"/>
<path d="M1403.49 1748L1411.83 1756.35L1403.49 1764.69L1395.15 1756.35Z" fill="#4cb93a" stroke="#4cb93a" stroke-width="1.4" stroke-linejoin="miter"/>
<path d="M1479.69 1751.52L1488.03 1759.86L1479.69 1768.21L1471.35 1759.86Z" fill="#4cb93a" stroke="#4cb93a" stroke-width="1.4" stroke-linejoin="miter"/>
<path d="M1555.89 1755.77L1564.23 1764.12L1555.89 1772.46L1547.55 1764.12Z" fill="#4cb93a" stroke="#4cb93a" stroke-width="1.4" stroke-linejoin="miter"/>
<path d="M1632.09 1767.15L1640.43 1775.49L1632.09 1783.84L1623.75 1775.49Z" fill="#4cb93a" stroke="#4cb93a" stroke-width="1.4" stroke-linejoin="miter"/>
<path d="M1708.29 1768.86L1716.63 1777.2L1708.29 1785.55L1699.95 1777.2Z" fill="#4cb93a" stroke="#4cb93a" stroke-width="1.4" stroke-linejoin="miter"/>
<line x1="1022.49" y1="1773.6" x2="1708.29" y2="1773.6" stroke="#4cb93a" stroke-width="4.6" stroke-dasharray="4.6 7.75"/>
<polyline points="1022.49,1820.67 1098.69,1800.46 1174.89,1788.58 1251.09,1772.12 1327.29,1760.93 1403.49,1766.1 1479.69,1774.43 1555.89,1773.92 1632.09,1781.5 1708.29,1782.71" fill="none" stroke="#d02c28" stroke-width="4.4" stroke-linejoin="round" stroke-linecap="square"/>
<path d="M1022.49 1814.59L1028.57 1826.75L1016.41 1826.75Z" fill="#d02c28" stroke="#d02c28" stroke-width="1.4" stroke-linejoin="miter"/>
<path d="M1098.69 1794.38L1104.77 1806.54L1092.61 1806.54Z" fill="#d02c28" stroke="#d02c28" stroke-width="1.4" stroke-linejoin="miter"/>
<path d="M1174.89 1782.5L1180.97 1794.65L1168.81 1794.65Z" fill="#d02c28" stroke="#d02c28" stroke-width="1.4" stroke-linejoin="miter"/>
<path d="M1251.09 1766.04L1257.17 1778.19L1245.01 1778.19Z" fill="#d02c28" stroke="#d02c28" stroke-width="1.4" stroke-linejoin="miter"/>
<path d="M1327.29 1754.85L1333.37 1767L1321.21 1767Z" fill="#d02c28" stroke="#d02c28" stroke-width="1.4" stroke-linejoin="miter"/>
<path d="M1403.49 1760.03L1409.57 1772.18L1397.41 1772.18Z" fill="#d02c28" stroke="#d02c28" stroke-width="1.4" stroke-linejoin="miter"/>
<path d="M1479.69 1768.35L1485.77 1780.51L1473.61 1780.51Z" fill="#d02c28" stroke="#d02c28" stroke-width="1.4" stroke-linejoin="miter"/>
<path d="M1555.89 1767.84L1561.97 1780L1549.81 1780Z" fill="#d02c28" stroke="#d02c28" stroke-width="1.4" stroke-linejoin="miter"/>
<path d="M1632.09 1775.43L1638.17 1787.58L1626.01 1787.58Z" fill="#d02c28" stroke="#d02c28" stroke-width="1.4" stroke-linejoin="miter"/>
<path d="M1708.29 1776.63L1714.37 1788.78L1702.21 1788.78Z" fill="#d02c28" stroke="#d02c28" stroke-width="1.4" stroke-linejoin="miter"/>
<line x1="1022.49" y1="1780.02" x2="1708.29" y2="1780.02" stroke="#d02c28" stroke-width="4.6" stroke-dasharray="4.6 7.75"/>
</g>
<text transform="translate(981.6 1865.3) scale(1 1.07)" font-size="18.1" text-anchor="end">0.0</text>
<text transform="translate(981.6 1772.82) scale(1 1.07)" font-size="18.1" text-anchor="end">0.2</text>
<text transform="translate(981.6 1680.34) scale(1 1.07)" font-size="18.1" text-anchor="end">0.4</text>
<text transform="translate(997.49 1880.6) scale(1 1.07)" font-size="18.1" text-anchor="middle">5</text>
<text transform="translate(1124.49 1880.6) scale(1 1.07)" font-size="18.1" text-anchor="middle">10</text>
<text transform="translate(1251.49 1880.6) scale(1 1.07)" font-size="18.1" text-anchor="middle">15</text>
<text transform="translate(1378.49 1880.6) scale(1 1.07)" font-size="18.1" text-anchor="middle">20</text>
<text transform="translate(1505.49 1880.6) scale(1 1.07)" font-size="18.1" text-anchor="middle">25</text>
<text transform="translate(1632.49 1880.6) scale(1 1.07)" font-size="18.1" text-anchor="middle">30</text>
<text x="1365.65" y="1909.2" font-size="22.1" text-anchor="middle">Time</text>
<text x="939.7" y="1743.6" font-size="22.1" text-anchor="middle" transform="rotate(-90 939.7 1743.6)">Brier Score</text>
<text x="1365.65" y="1603.7" font-size="26" text-anchor="middle">External Validation 1</text>
<line x1="1061.25" y1="1929.9" x2="1098.05" y2="1929.9" stroke="#000" stroke-width="3.7" stroke-linecap="square"/>
<text x="1113.35" y="1936.5" font-size="18.55">Time-dependent Brier Score</text>
<line x1="1410.95" y1="1929.9" x2="1447.95" y2="1929.9" stroke="#000" stroke-width="3.8" stroke-dasharray="3.8 6.2"/>
<text x="1463.25" y="1936.5" font-size="18.55">Integrated Brier Score</text>
<line x1="1112.35" y1="1964.3" x2="1149.85" y2="1964.3" stroke="#4c8cbf" stroke-width="4.2" stroke-linecap="square"/>
<text x="1164.65" y="1958.2" font-size="18.55">CNN, IBS=0.24,</text>
<text x="1164.65" y="1980.4" font-size="18.55">95% CI: [0.20-0.28]</text>
<line x1="1112.35" y1="2013.8" x2="1149.85" y2="2013.8" stroke="#d46b23" stroke-width="4.2" stroke-linecap="square"/>
<text x="1164.65" y="2007.7" font-size="18.55">ViT, IBS=0.24,</text>
<text x="1164.65" y="2029.9" font-size="18.55">95% CI: [0.20-0.29]</text>
<line x1="1383.85" y1="1964.3" x2="1421.35" y2="1964.3" stroke="#4cb93a" stroke-width="4.2" stroke-linecap="square"/>
<text x="1436.15" y="1958.2" font-size="18.55">NIMT, IBS=0.18,</text>
<text x="1436.15" y="1980.4" font-size="18.55">95% CI: [0.17-0.20]</text>
<line x1="1383.85" y1="2013.8" x2="1421.35" y2="2013.8" stroke="#d02c28" stroke-width="4.2" stroke-linecap="square"/>
<text x="1436.15" y="2007.7" font-size="18.55">GlioSurv, IBS=0.17,</text>
<text x="1436.15" y="2029.9" font-size="18.55">95% CI: [0.14-0.20]</text>
<line x1="82.4" y1="2324.3" x2="837.3" y2="2324.3" stroke="#e9eaea" stroke-width="2"/>
<line x1="82.4" y1="2231.82" x2="837.3" y2="2231.82" stroke="#e9eaea" stroke-width="2"/>
<line x1="82.4" y1="2139.34" x2="837.3" y2="2139.34" stroke="#e9eaea" stroke-width="2"/>
<line x1="91.29" y1="2093.1" x2="91.29" y2="2324.3" stroke="#e9eaea" stroke-width="2"/>
<line x1="218.29" y1="2093.1" x2="218.29" y2="2324.3" stroke="#e9eaea" stroke-width="2"/>
<line x1="345.29" y1="2093.1" x2="345.29" y2="2324.3" stroke="#e9eaea" stroke-width="2"/>
<line x1="472.29" y1="2093.1" x2="472.29" y2="2324.3" stroke="#e9eaea" stroke-width="2"/>
<line x1="599.29" y1="2093.1" x2="599.29" y2="2324.3" stroke="#e9eaea" stroke-width="2"/>
<line x1="726.29" y1="2093.1" x2="726.29" y2="2324.3" stroke="#e9eaea" stroke-width="2"/>
<clipPath id="cl6"><rect x="82.4" y="2093.1" width="754.9" height="231.2"/></clipPath>
<g clip-path="url(#cl6)">
<polyline points="116.69,2267.1 192.89,2249.53 269.09,2229.42 345.29,2211.75 421.49,2196.4 497.69,2184.19 573.89,2178.74 650.09,2174.53 726.29,2173.56 802.49,2174.02" fill="none" stroke="#4c8cbf" stroke-width="4.4" stroke-linejoin="round" stroke-linecap="square"/>
<circle cx="116.69" cy="2267.1" r="5.9" fill="#4c8cbf" stroke="#4c8cbf" stroke-width="1.4" stroke-linejoin="miter"/>
<circle cx="192.89" cy="2249.53" r="5.9" fill="#4c8cbf" stroke="#4c8cbf" stroke-width="1.4" stroke-linejoin="miter"/>
<circle cx="269.09" cy="2229.42" r="5.9" fill="#4c8cbf" stroke="#4c8cbf" stroke-width="1.4" stroke-linejoin="miter"/>
<circle cx="345.29" cy="2211.75" r="5.9" fill="#4c8cbf" stroke="#4c8cbf" stroke-width="1.4" stroke-linejoin="miter"/>
<circle cx="421.49" cy="2196.4" r="5.9" fill="#4c8cbf" stroke="#4c8cbf" stroke-width="1.4" stroke-linejoin="miter"/>
<circle cx="497.69" cy="2184.19" r="5.9" fill="#4c8cbf" stroke="#4c8cbf" stroke-width="1.4" stroke-linejoin="miter"/>
<circle cx="573.89" cy="2178.74" r="5.9" fill="#4c8cbf" stroke="#4c8cbf" stroke-width="1.4" stroke-linejoin="miter"/>
<circle cx="650.09" cy="2174.53" r="5.9" fill="#4c8cbf" stroke="#4c8cbf" stroke-width="1.4" stroke-linejoin="miter"/>
<circle cx="726.29" cy="2173.56" r="5.9" fill="#4c8cbf" stroke="#4c8cbf" stroke-width="1.4" stroke-linejoin="miter"/>
<circle cx="802.49" cy="2174.02" r="5.9" fill="#4c8cbf" stroke="#4c8cbf" stroke-width="1.4" stroke-linejoin="miter"/>
<line x1="116.69" y1="2202.27" x2="802.49" y2="2202.27" stroke="#4c8cbf" stroke-width="4.6" stroke-dasharray="4.6 7.75"/>
<polyline points="116.69,2270.66 192.89,2257.76 269.09,2242.87 345.29,2234.13 421.49,2227.75 497.69,2224.75 573.89,2224.75 650.09,2225.86 726.29,2228.26 802.49,2232.51" fill="none" stroke="#d46b23" stroke-width="4.4" stroke-linejoin="round" stroke-linecap="square"/>
<rect x="110.79" y="2264.76" width="11.8" height="11.8" fill="#d46b23" stroke="#d46b23" stroke-width="1.4" stroke-linejoin="miter"/>
<rect x="186.99" y="2251.86" width="11.8" height="11.8" fill="#d46b23" stroke="#d46b23" stroke-width="1.4" stroke-linejoin="miter"/>
<rect x="263.19" y="2236.97" width="11.8" height="11.8" fill="#d46b23" stroke="#d46b23" stroke-width="1.4" stroke-linejoin="miter"/>
<rect x="339.39" y="2228.23" width="11.8" height="11.8" fill="#d46b23" stroke="#d46b23" stroke-width="1.4" stroke-linejoin="miter"/>
<rect x="415.59" y="2221.85" width="11.8" height="11.8" fill="#d46b23" stroke="#d46b23" stroke-width="1.4" stroke-linejoin="miter"/>
<rect x="491.79" y="2218.85" width="11.8" height="11.8" fill="#d46b23" stroke="#d46b23" stroke-width="1.4" stroke-linejoin="miter"/>
<rect x="567.99" y="2218.85" width="11.8" height="11.8" fill="#d46b23" stroke="#d46b23" stroke-width="1.4" stroke-linejoin="miter"/>
<rect x="644.19" y="2219.96" width="11.8" height="11.8" fill="#d46b23" stroke="#d46b23" stroke-width="1.4" stroke-linejoin="miter"/>
<rect x="720.39" y="2222.36" width="11.8" height="11.8" fill="#d46b23" stroke="#d46b23" stroke-width="1.4" stroke-linejoin="miter"/>
<rect x="796.59" y="2226.61" width="11.8" height="11.8" fill="#d46b23" stroke="#d46b23" stroke-width="1.4" stroke-linejoin="miter"/>
<line x1="116.69" y1="2236.49" x2="802.49" y2="2236.49" stroke="#d46b23" stroke-width="4.6" stroke-dasharray="4.6 7.75"/>
<polyline points="116.69,2273.11 192.89,2260.07 269.09,2248.33 345.29,2244.07 421.49,2244.26 497.69,2247.13 573.89,2255.4 650.09,2263.63 726.29,2267.84 802.49,2273.48" fill="none" stroke="#4cb93a" stroke-width="4.4" stroke-linejoin="round" stroke-linecap="square"/>
<path d="M116.69 2264.77L125.03 2273.11L116.69 2281.46L108.35 2273.11Z" fill="#4cb93a" stroke="#4cb93a" stroke-width="1.4" stroke-linejoin="miter"/>
<path d="M192.89 2251.73L201.23 2260.07L192.89 2268.42L184.55 2260.07Z" fill="#4cb93a" stroke="#4cb93a" stroke-width="1.4" stroke-linejoin="miter"/>
<path d="M269.09 2239.98L277.43 2248.33L269.09 2256.67L260.75 2248.33Z" fill="#4cb93a" stroke="#4cb93a" stroke-width="1.4" stroke-linejoin="miter"/>
<path d="M345.29 2235.73L353.63 2244.07L345.29 2252.42L336.95 2244.07Z" fill="#4cb93a" stroke="#4cb93a" stroke-width="1.4" stroke-linejoin="miter"/>
<path d="M421.49 2235.91L429.83 2244.26L421.49 2252.6L413.15 2244.26Z" fill="#4cb93a" stroke="#4cb93a" stroke-width="1.4" stroke-linejoin="miter"/>
<path d="M497.69 2238.78L506.03 2247.13L497.69 2255.47L489.35 2247.13Z" fill="#4cb93a" stroke="#4cb93a" stroke-width="1.4" stroke-linejoin="miter"/>
<path d="M573.89 2247.06L582.23 2255.4L573.89 2263.75L565.55 2255.4Z" fill="#4cb93a" stroke="#4cb93a" stroke-width="1.4" stroke-linejoin="miter"/>
<path d="M650.09 2255.29L658.43 2263.63L650.09 2271.98L641.75 2263.63Z" fill="#4cb93a" stroke="#4cb93a" stroke-width="1.4" stroke-linejoin="miter"/>
<path d="M726.29 2259.5L734.63 2267.84L726.29 2276.18L717.95 2267.84Z" fill="#4cb93a" stroke="#4cb93a" stroke-width="1.4" stroke-linejoin="miter"/>
<path d="M802.49 2265.14L810.83 2273.48L802.49 2281.83L794.15 2273.48Z" fill="#4cb93a" stroke="#4cb93a" stroke-width="1.4" stroke-linejoin="miter"/>
<line x1="116.69" y1="2256.56" x2="802.49" y2="2256.56" stroke="#4cb93a" stroke-width="4.6" stroke-dasharray="4.6 7.75"/>
<polyline points="116.69,2275.1 192.89,2264.42 269.09,2254.99 345.29,2250.32 421.49,2248.61 497.69,2249.81 573.89,2256.19 650.09,2259.75 726.29,2263.96 802.49,2269.23" fill="none" stroke="#d02c28" stroke-width="4.4" stroke-linejoin="round" stroke-linecap="square"/>
<path d="M116.69 2269.02L122.77 2281.18L110.61 2281.18Z" fill="#d02c28" stroke="#d02c28" stroke-width="1.4" stroke-linejoin="miter"/>
<path d="M192.89 2258.34L198.97 2270.5L186.81 2270.5Z" fill="#d02c28" stroke="#d02c28" stroke-width="1.4" stroke-linejoin="miter"/>
<path d="M269.09 2248.91L275.17 2261.06L263.01 2261.06Z" fill="#d02c28" stroke="#d02c28" stroke-width="1.4" stroke-linejoin="miter"/>
<path d="M345.29 2244.24L351.37 2256.39L339.21 2256.39Z" fill="#d02c28" stroke="#d02c28" stroke-width="1.4" stroke-linejoin="miter"/>
<path d="M421.49 2242.53L427.57 2254.68L415.41 2254.68Z" fill="#d02c28" stroke="#d02c28" stroke-width="1.4" stroke-linejoin="miter"/>
<path d="M497.69 2243.73L503.77 2255.88L491.61 2255.88Z" fill="#d02c28" stroke="#d02c28" stroke-width="1.4" stroke-linejoin="miter"/>
<path d="M573.89 2250.11L579.97 2262.27L567.81 2262.27Z" fill="#d02c28" stroke="#d02c28" stroke-width="1.4" stroke-linejoin="miter"/>
<path d="M650.09 2253.67L656.17 2265.83L644.01 2265.83Z" fill="#d02c28" stroke="#d02c28" stroke-width="1.4" stroke-linejoin="miter"/>
<path d="M726.29 2257.88L732.37 2270.03L720.21 2270.03Z" fill="#d02c28" stroke="#d02c28" stroke-width="1.4" stroke-linejoin="miter"/>
<path d="M802.49 2263.15L808.57 2275.31L796.41 2275.31Z" fill="#d02c28" stroke="#d02c28" stroke-width="1.4" stroke-linejoin="miter"/>
<line x1="116.69" y1="2258.18" x2="802.49" y2="2258.18" stroke="#d02c28" stroke-width="4.6" stroke-dasharray="4.6 7.75"/>
</g>
<text transform="translate(75.8 2331.2) scale(1 1.07)" font-size="18.1" text-anchor="end">0.0</text>
<text transform="translate(75.8 2238.72) scale(1 1.07)" font-size="18.1" text-anchor="end">0.2</text>
<text transform="translate(75.8 2146.24) scale(1 1.07)" font-size="18.1" text-anchor="end">0.4</text>
<text transform="translate(91.69 2346.5) scale(1 1.07)" font-size="18.1" text-anchor="middle">5</text>
<text transform="translate(218.69 2346.5) scale(1 1.07)" font-size="18.1" text-anchor="middle">10</text>
<text transform="translate(345.69 2346.5) scale(1 1.07)" font-size="18.1" text-anchor="middle">15</text>
<text transform="translate(472.69 2346.5) scale(1 1.07)" font-size="18.1" text-anchor="middle">20</text>
<text transform="translate(599.69 2346.5) scale(1 1.07)" font-size="18.1" text-anchor="middle">25</text>
<text transform="translate(726.69 2346.5) scale(1 1.07)" font-size="18.1" text-anchor="middle">30</text>
<text x="459.85" y="2375.1" font-size="22.1" text-anchor="middle">Time</text>
<text x="33.9" y="2209.5" font-size="22.1" text-anchor="middle" transform="rotate(-90 33.9 2209.5)">Brier Score</text>
<text x="459.85" y="2069.6" font-size="26" text-anchor="middle">External Validation 2</text>
<line x1="155.45" y1="2395.8" x2="192.25" y2="2395.8" stroke="#000" stroke-width="3.7" stroke-linecap="square"/>
<text x="207.55" y="2402.4" font-size="18.55">Time-dependent Brier Score</text>
<line x1="505.15" y1="2395.8" x2="542.15" y2="2395.8" stroke="#000" stroke-width="3.8" stroke-dasharray="3.8 6.2"/>
<text x="557.45" y="2402.4" font-size="18.55">Integrated Brier Score</text>
<line x1="206.55" y1="2430.2" x2="244.05" y2="2430.2" stroke="#4c8cbf" stroke-width="4.2" stroke-linecap="square"/>
<text x="258.85" y="2424.1" font-size="18.55">CNN, IBS=0.26,</text>
<text x="258.85" y="2446.3" font-size="18.55">95% CI: [0.23-0.30]</text>
<line x1="206.55" y1="2479.7" x2="244.05" y2="2479.7" stroke="#d46b23" stroke-width="4.2" stroke-linecap="square"/>
<text x="258.85" y="2473.6" font-size="18.55">ViT, IBS=0.19,</text>
<text x="258.85" y="2495.8" font-size="18.55">95% CI: [0.17-0.21]</text>
<line x1="478.05" y1="2430.2" x2="515.55" y2="2430.2" stroke="#4cb93a" stroke-width="4.2" stroke-linecap="square"/>
<text x="530.35" y="2424.1" font-size="18.55">NIMT, IBS=0.15,</text>
<text x="530.35" y="2446.3" font-size="18.55">95% CI: [0.14-0.16]</text>
<line x1="478.05" y1="2479.7" x2="515.55" y2="2479.7" stroke="#d02c28" stroke-width="4.2" stroke-linecap="square"/>
<text x="530.35" y="2473.6" font-size="18.55">GlioSurv, IBS=0.14,</text>
<text x="530.35" y="2495.8" font-size="18.55">95% CI: [0.13-0.16]</text>
<line x1="988.2" y1="2324.3" x2="1743.1" y2="2324.3" stroke="#e9eaea" stroke-width="2"/>
<line x1="988.2" y1="2231.82" x2="1743.1" y2="2231.82" stroke="#e9eaea" stroke-width="2"/>
<line x1="988.2" y1="2139.34" x2="1743.1" y2="2139.34" stroke="#e9eaea" stroke-width="2"/>
<line x1="997.09" y1="2093.1" x2="997.09" y2="2324.3" stroke="#e9eaea" stroke-width="2"/>
<line x1="1124.09" y1="2093.1" x2="1124.09" y2="2324.3" stroke="#e9eaea" stroke-width="2"/>
<line x1="1251.09" y1="2093.1" x2="1251.09" y2="2324.3" stroke="#e9eaea" stroke-width="2"/>
<line x1="1378.09" y1="2093.1" x2="1378.09" y2="2324.3" stroke="#e9eaea" stroke-width="2"/>
<line x1="1505.09" y1="2093.1" x2="1505.09" y2="2324.3" stroke="#e9eaea" stroke-width="2"/>
<line x1="1632.09" y1="2093.1" x2="1632.09" y2="2324.3" stroke="#e9eaea" stroke-width="2"/>
<clipPath id="cl7"><rect x="988.2" y="2093.1" width="754.9" height="231.2"/></clipPath>
<g clip-path="url(#cl7)">
<polyline points="1022.49,2235.98 1098.69,2210.73 1174.89,2187.15 1251.09,2157.23 1327.29,2140.03 1403.49,2131.8 1479.69,2131.29 1555.89,2137.17 1632.09,2144.7 1708.29,2154.83" fill="none" stroke="#4c8cbf" stroke-width="4.4" stroke-linejoin="round" stroke-linecap="square"/>
<circle cx="1022.49" cy="2235.98" r="5.9" fill="#4c8cbf" stroke="#4c8cbf" stroke-width="1.4" stroke-linejoin="miter"/>
<circle cx="1098.69" cy="2210.73" r="5.9" fill="#4c8cbf" stroke="#4c8cbf" stroke-width="1.4" stroke-linejoin="miter"/>
<circle cx="1174.89" cy="2187.15" r="5.9" fill="#4c8cbf" stroke="#4c8cbf" stroke-width="1.4" stroke-linejoin="miter"/>
<circle cx="1251.09" cy="2157.23" r="5.9" fill="#4c8cbf" stroke="#4c8cbf" stroke-width="1.4" stroke-linejoin="miter"/>
<circle cx="1327.29" cy="2140.03" r="5.9" fill="#4c8cbf" stroke="#4c8cbf" stroke-width="1.4" stroke-linejoin="miter"/>
<circle cx="1403.49" cy="2131.8" r="5.9" fill="#4c8cbf" stroke="#4c8cbf" stroke-width="1.4" stroke-linejoin="miter"/>
<circle cx="1479.69" cy="2131.29" r="5.9" fill="#4c8cbf" stroke="#4c8cbf" stroke-width="1.4" stroke-linejoin="miter"/>
<circle cx="1555.89" cy="2137.17" r="5.9" fill="#4c8cbf" stroke="#4c8cbf" stroke-width="1.4" stroke-linejoin="miter"/>
<circle cx="1632.09" cy="2144.7" r="5.9" fill="#4c8cbf" stroke="#4c8cbf" stroke-width="1.4" stroke-linejoin="miter"/>
<circle cx="1708.29" cy="2154.83" r="5.9" fill="#4c8cbf" stroke="#4c8cbf" stroke-width="1.4" stroke-linejoin="miter"/>
<line x1="1022.49" y1="2159.55" x2="1708.29" y2="2159.55" stroke="#4c8cbf" stroke-width="4.6" stroke-dasharray="4.6 7.75"/>
<polyline points="1022.49,2237.83 1098.69,2216.61 1174.89,2197.79 1251.09,2178.92 1327.29,2168.29 1403.49,2166.67 1479.69,2167.55 1555.89,2173.47 1632.09,2178.41 1708.29,2186.46" fill="none" stroke="#d46b23" stroke-width="4.4" stroke-linejoin="round" stroke-linecap="square"/>
<rect x="1016.59" y="2231.93" width="11.8" height="11.8" fill="#d46b23" stroke="#d46b23" stroke-width="1.4" stroke-linejoin="miter"/>
<rect x="1092.79" y="2210.71" width="11.8" height="11.8" fill="#d46b23" stroke="#d46b23" stroke-width="1.4" stroke-linejoin="miter"/>
<rect x="1168.99" y="2191.89" width="11.8" height="11.8" fill="#d46b23" stroke="#d46b23" stroke-width="1.4" stroke-linejoin="miter"/>
<rect x="1245.19" y="2173.02" width="11.8" height="11.8" fill="#d46b23" stroke="#d46b23" stroke-width="1.4" stroke-linejoin="miter"/>
<rect x="1321.39" y="2162.39" width="11.8" height="11.8" fill="#d46b23" stroke="#d46b23" stroke-width="1.4" stroke-linejoin="miter"/>
<rect x="1397.59" y="2160.77" width="11.8" height="11.8" fill="#d46b23" stroke="#d46b23" stroke-width="1.4" stroke-linejoin="miter"/>
<rect x="1473.79" y="2161.65" width="11.8" height="11.8" fill="#d46b23" stroke="#d46b23" stroke-width="1.4" stroke-linejoin="miter"/>
<rect x="1549.99" y="2167.57" width="11.8" height="11.8" fill="#d46b23" stroke="#d46b23" stroke-width="1.4" stroke-linejoin="miter"/>
<rect x="1626.19" y="2172.51" width="11.8" height="11.8" fill="#d46b23" stroke="#d46b23" stroke-width="1.4" stroke-linejoin="miter"/>
<rect x="1702.39" y="2180.56" width="11.8" height="11.8" fill="#d46b23" stroke="#d46b23" stroke-width="1.4" stroke-linejoin="miter"/>
<line x1="1022.49" y1="2185.3" x2="1708.29" y2="2185.3" stroke="#d46b23" stroke-width="4.6" stroke-dasharray="4.6 7.75"/>
<polyline points="1022.49,2240.88 1098.69,2220.17 1174.89,2206.48 1251.09,2195.43 1327.29,2197.79 1403.49,2206.48 1479.69,2217.81 1555.89,2230.71 1632.09,2243.75 1708.29,2253.18" fill="none" stroke="#4cb93a" stroke-width="4.4" stroke-linejoin="round" stroke-linecap="square"/>
<path d="M1022.49 2232.54L1030.83 2240.88L1022.49 2249.23L1014.15 2240.88Z" fill="#4cb93a" stroke="#4cb93a" stroke-width="1.4" stroke-linejoin="miter"/>
<path d="M1098.69 2211.82L1107.03 2220.17L1098.69 2228.51L1090.35 2220.17Z" fill="#4cb93a" stroke="#4cb93a" stroke-width="1.4" stroke-linejoin="miter"/>
<path d="M1174.89 2198.14L1183.23 2206.48L1174.89 2214.82L1166.55 2206.48Z" fill="#4cb93a" stroke="#4cb93a" stroke-width="1.4" stroke-linejoin="miter"/>
<path d="M1251.09 2187.09L1259.43 2195.43L1251.09 2203.77L1242.75 2195.43Z" fill="#4cb93a" stroke="#4cb93a" stroke-width="1.4" stroke-linejoin="miter"/>
<path d="M1327.29 2189.44L1335.63 2197.79L1327.29 2206.13L1318.95 2197.79Z" fill="#4cb93a" stroke="#4cb93a" stroke-width="1.4" stroke-linejoin="miter"/>
<path d="M1403.49 2198.14L1411.83 2206.48L1403.49 2214.82L1395.15 2206.48Z" fill="#4cb93a" stroke="#4cb93a" stroke-width="1.4" stroke-linejoin="miter"/>
<path d="M1479.69 2209.47L1488.03 2217.81L1479.69 2226.15L1471.35 2217.81Z" fill="#4cb93a" stroke="#4cb93a" stroke-width="1.4" stroke-linejoin="miter"/>
<path d="M1555.89 2222.37L1564.23 2230.71L1555.89 2239.05L1547.55 2230.71Z" fill="#4cb93a" stroke="#4cb93a" stroke-width="1.4" stroke-linejoin="miter"/>
<path d="M1632.09 2235.41L1640.43 2243.75L1632.09 2252.09L1623.75 2243.75Z" fill="#4cb93a" stroke="#4cb93a" stroke-width="1.4" stroke-linejoin="miter"/>
<path d="M1708.29 2244.84L1716.63 2253.18L1708.29 2261.53L1699.95 2253.18Z" fill="#4cb93a" stroke="#4cb93a" stroke-width="1.4" stroke-linejoin="miter"/>
<line x1="1022.49" y1="2219.47" x2="1708.29" y2="2219.47" stroke="#4cb93a" stroke-width="4.6" stroke-dasharray="4.6 7.75"/>
<polyline points="1022.49,2244.07 1098.69,2229.92 1174.89,2215.13 1251.09,2210.32 1327.29,2210.32 1403.49,2218.6 1479.69,2227.57 1555.89,2237.51 1632.09,2245.23 1708.29,2251.61" fill="none" stroke="#d02c28" stroke-width="4.4" stroke-linejoin="round" stroke-linecap="square"/>
<path d="M1022.49 2238L1028.57 2250.15L1016.41 2250.15Z" fill="#d02c28" stroke="#d02c28" stroke-width="1.4" stroke-linejoin="miter"/>
<path d="M1098.69 2223.85L1104.77 2236L1092.61 2236Z" fill="#d02c28" stroke="#d02c28" stroke-width="1.4" stroke-linejoin="miter"/>
<path d="M1174.89 2209.05L1180.97 2221.2L1168.81 2221.2Z" fill="#d02c28" stroke="#d02c28" stroke-width="1.4" stroke-linejoin="miter"/>
<path d="M1251.09 2204.24L1257.17 2216.4L1245.01 2216.4Z" fill="#d02c28" stroke="#d02c28" stroke-width="1.4" stroke-linejoin="miter"/>
<path d="M1327.29 2204.24L1333.37 2216.4L1321.21 2216.4Z" fill="#d02c28" stroke="#d02c28" stroke-width="1.4" stroke-linejoin="miter"/>
<path d="M1403.49 2212.52L1409.57 2224.67L1397.41 2224.67Z" fill="#d02c28" stroke="#d02c28" stroke-width="1.4" stroke-linejoin="miter"/>
<path d="M1479.69 2221.49L1485.77 2233.64L1473.61 2233.64Z" fill="#d02c28" stroke="#d02c28" stroke-width="1.4" stroke-linejoin="miter"/>
<path d="M1555.89 2231.43L1561.97 2243.58L1549.81 2243.58Z" fill="#d02c28" stroke="#d02c28" stroke-width="1.4" stroke-linejoin="miter"/>
<path d="M1632.09 2239.15L1638.17 2251.31L1626.01 2251.31Z" fill="#d02c28" stroke="#d02c28" stroke-width="1.4" stroke-linejoin="miter"/>
<path d="M1708.29 2245.53L1714.37 2257.69L1702.21 2257.69Z" fill="#d02c28" stroke="#d02c28" stroke-width="1.4" stroke-linejoin="miter"/>
<line x1="1022.49" y1="2227.24" x2="1708.29" y2="2227.24" stroke="#d02c28" stroke-width="4.6" stroke-dasharray="4.6 7.75"/>
</g>
<text transform="translate(981.6 2331.2) scale(1 1.07)" font-size="18.1" text-anchor="end">0.0</text>
<text transform="translate(981.6 2238.72) scale(1 1.07)" font-size="18.1" text-anchor="end">0.2</text>
<text transform="translate(981.6 2146.24) scale(1 1.07)" font-size="18.1" text-anchor="end">0.4</text>
<text transform="translate(997.49 2346.5) scale(1 1.07)" font-size="18.1" text-anchor="middle">5</text>
<text transform="translate(1124.49 2346.5) scale(1 1.07)" font-size="18.1" text-anchor="middle">10</text>
<text transform="translate(1251.49 2346.5) scale(1 1.07)" font-size="18.1" text-anchor="middle">15</text>
<text transform="translate(1378.49 2346.5) scale(1 1.07)" font-size="18.1" text-anchor="middle">20</text>
<text transform="translate(1505.49 2346.5) scale(1 1.07)" font-size="18.1" text-anchor="middle">25</text>
<text transform="translate(1632.49 2346.5) scale(1 1.07)" font-size="18.1" text-anchor="middle">30</text>
<text x="1365.65" y="2375.1" font-size="22.1" text-anchor="middle">Time</text>
<text x="939.7" y="2209.5" font-size="22.1" text-anchor="middle" transform="rotate(-90 939.7 2209.5)">Brier Score</text>
<text x="1365.65" y="2069.6" font-size="26" text-anchor="middle">External Validation 3</text>
<line x1="1061.25" y1="2395.8" x2="1098.05" y2="2395.8" stroke="#000" stroke-width="3.7" stroke-linecap="square"/>
<text x="1113.35" y="2402.4" font-size="18.55">Time-dependent Brier Score</text>
<line x1="1410.95" y1="2395.8" x2="1447.95" y2="2395.8" stroke="#000" stroke-width="3.8" stroke-dasharray="3.8 6.2"/>
<text x="1463.25" y="2402.4" font-size="18.55">Integrated Brier Score</text>
<line x1="1112.35" y1="2430.2" x2="1149.85" y2="2430.2" stroke="#4c8cbf" stroke-width="4.2" stroke-linecap="square"/>
<text x="1164.65" y="2424.1" font-size="18.55">CNN, IBS=0.36,</text>
<text x="1164.65" y="2446.3" font-size="18.55">95% CI: [0.34-0.37]</text>
<line x1="1112.35" y1="2479.7" x2="1149.85" y2="2479.7" stroke="#d46b23" stroke-width="4.2" stroke-linecap="square"/>
<text x="1164.65" y="2473.6" font-size="18.55">ViT, IBS=0.30,</text>
<text x="1164.65" y="2495.8" font-size="18.55">95% CI: [0.28-0.32]</text>
<line x1="1383.85" y1="2430.2" x2="1421.35" y2="2430.2" stroke="#4cb93a" stroke-width="4.2" stroke-linecap="square"/>
<text x="1436.15" y="2424.1" font-size="18.55">NIMT, IBS=0.23,</text>
<text x="1436.15" y="2446.3" font-size="18.55">95% CI: [0.22-0.23]</text>
<line x1="1383.85" y1="2479.7" x2="1421.35" y2="2479.7" stroke="#d02c28" stroke-width="4.2" stroke-linecap="square"/>
<text x="1436.15" y="2473.6" font-size="18.55">GlioSurv, IBS=0.21,</text>
<text x="1436.15" y="2495.8" font-size="18.55">95% CI: [0.20-0.22]</text>
<text transform="translate(1.1 27.7) scale(1 1.01)" font-size="44" font-weight="bold">a</text>
<text transform="translate(0.3 621.6) scale(1 1.01)" font-size="44" font-weight="bold">b</text>
<text transform="translate(3 1580.1) scale(1 1.01)" font-size="44" font-weight="bold">c</text>
</svg>
</body></html>
